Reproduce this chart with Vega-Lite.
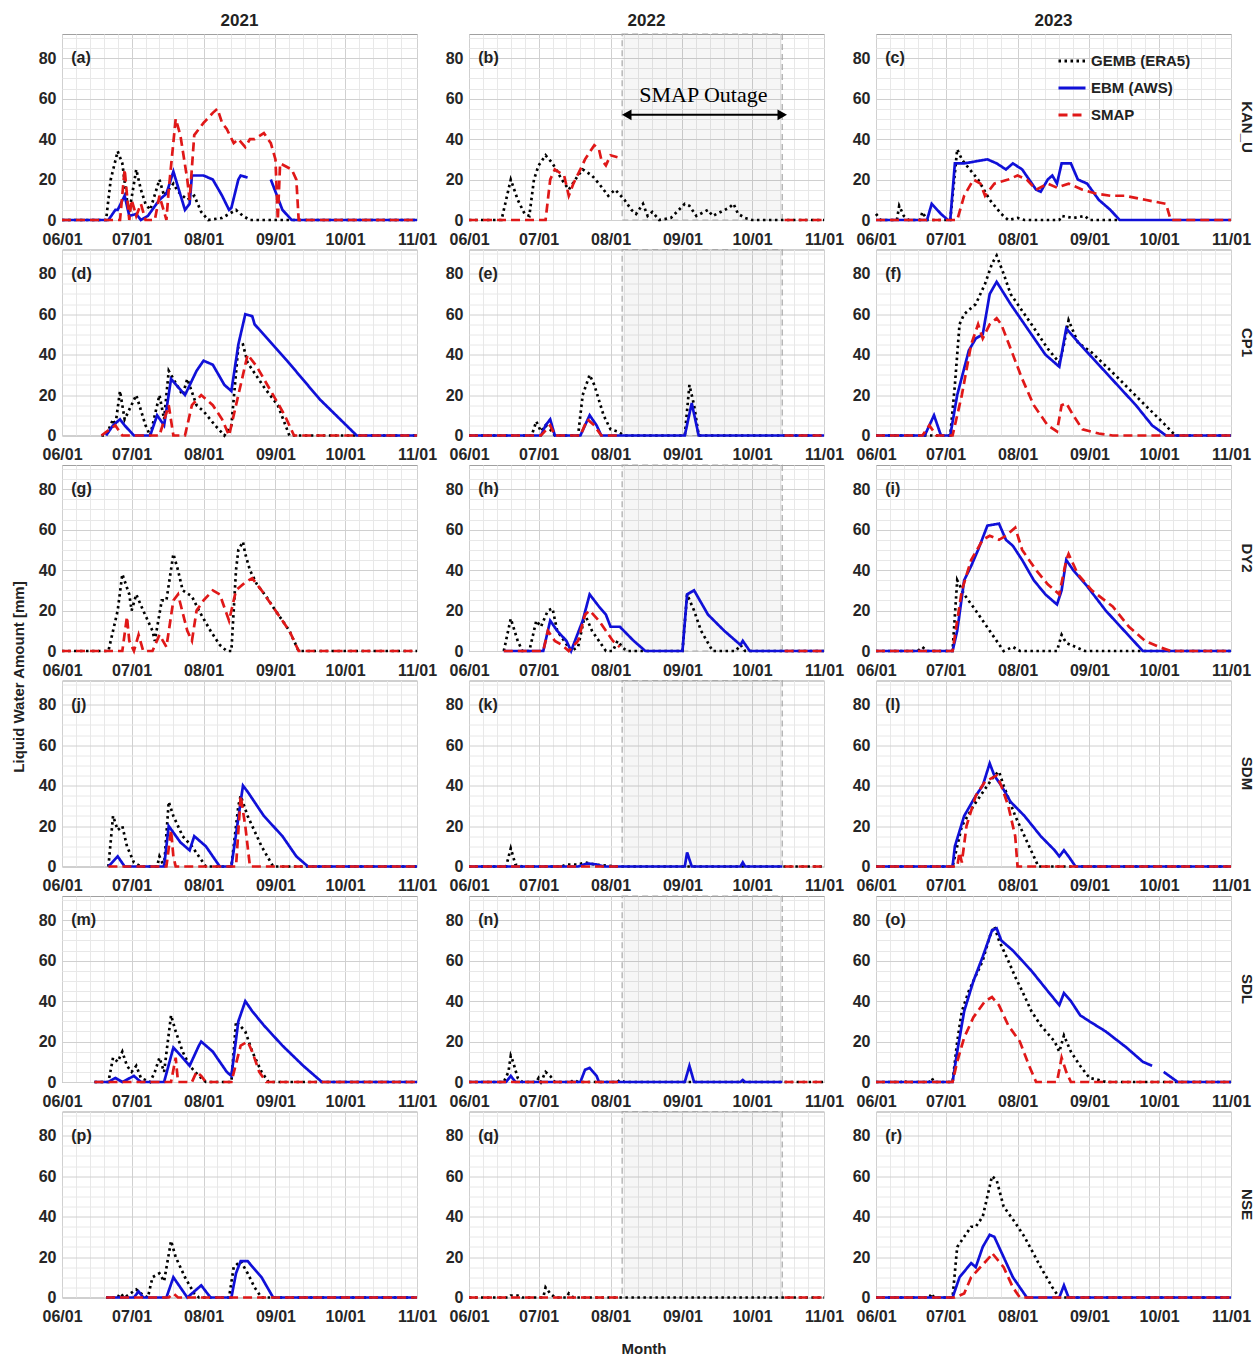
{
"$schema":"https://vega.github.io/schema/vega-lite/v6.json",
"padding":{"left":11,"top":12,"right":2,"bottom":2},
"data":{"values":[
{"site":"KAN_U","date":"2021-06-01","lab":"(a)"},{"site":"KAN_U","date":"2022-06-01","lab":"(b)"},{"site":"KAN_U","date":"2023-06-01","lab":"(c)"},
{"site":"CP1","date":"2021-06-01","lab":"(d)"},{"site":"CP1","date":"2022-06-01","lab":"(e)"},{"site":"CP1","date":"2023-06-01","lab":"(f)"},
{"site":"DY2","date":"2021-06-01","lab":"(g)"},{"site":"DY2","date":"2022-06-01","lab":"(h)"},{"site":"DY2","date":"2023-06-01","lab":"(i)"},
{"site":"SDM","date":"2021-06-01","lab":"(j)"},{"site":"SDM","date":"2022-06-01","lab":"(k)"},{"site":"SDM","date":"2023-06-01","lab":"(l)"},
{"site":"SDL","date":"2021-06-01","lab":"(m)"},{"site":"SDL","date":"2022-06-01","lab":"(n)"},{"site":"SDL","date":"2023-06-01","lab":"(o)"},
{"site":"NSE","date":"2021-06-01","lab":"(p)"},{"site":"NSE","date":"2022-06-01","lab":"(q)"},{"site":"NSE","date":"2023-06-01","lab":"(r)"},

{"site":"KAN_U","src":"GEMB (ERA5)","date":"2021-06-01","mm":0},{"site":"KAN_U","src":"GEMB (ERA5)","date":"2021-06-20","mm":0},{"site":"KAN_U","src":"GEMB (ERA5)","date":"2021-06-22","mm":20},{"site":"KAN_U","src":"GEMB (ERA5)","date":"2021-06-25","mm":34},{"site":"KAN_U","src":"GEMB (ERA5)","date":"2021-06-27","mm":28},{"site":"KAN_U","src":"GEMB (ERA5)","date":"2021-06-29","mm":10},{"site":"KAN_U","src":"GEMB (ERA5)","date":"2021-06-30","mm":4},{"site":"KAN_U","src":"GEMB (ERA5)","date":"2021-07-03","mm":25},{"site":"KAN_U","src":"GEMB (ERA5)","date":"2021-07-05","mm":15},{"site":"KAN_U","src":"GEMB (ERA5)","date":"2021-07-07","mm":8},{"site":"KAN_U","src":"GEMB (ERA5)","date":"2021-07-09","mm":5},{"site":"KAN_U","src":"GEMB (ERA5)","date":"2021-07-13","mm":20},{"site":"KAN_U","src":"GEMB (ERA5)","date":"2021-07-15","mm":12},{"site":"KAN_U","src":"GEMB (ERA5)","date":"2021-07-17","mm":15},{"site":"KAN_U","src":"GEMB (ERA5)","date":"2021-07-19","mm":18},{"site":"KAN_U","src":"GEMB (ERA5)","date":"2021-07-21","mm":14},{"site":"KAN_U","src":"GEMB (ERA5)","date":"2021-07-25","mm":10},{"site":"KAN_U","src":"GEMB (ERA5)","date":"2021-07-28","mm":12},{"site":"KAN_U","src":"GEMB (ERA5)","date":"2021-07-31","mm":4},{"site":"KAN_U","src":"GEMB (ERA5)","date":"2021-08-03","mm":0},{"site":"KAN_U","src":"GEMB (ERA5)","date":"2021-08-09","mm":1},{"site":"KAN_U","src":"GEMB (ERA5)","date":"2021-08-12","mm":3},{"site":"KAN_U","src":"GEMB (ERA5)","date":"2021-08-15","mm":5},{"site":"KAN_U","src":"GEMB (ERA5)","date":"2021-08-18","mm":2},{"site":"KAN_U","src":"GEMB (ERA5)","date":"2021-08-21","mm":0},{"site":"KAN_U","src":"GEMB (ERA5)","date":"2021-11-01","mm":0},
{"site":"KAN_U","src":"EBM (AWS)","date":"2021-06-01","mm":0},{"site":"KAN_U","src":"EBM (AWS)","date":"2021-06-21","mm":0},{"site":"KAN_U","src":"EBM (AWS)","date":"2021-06-24","mm":5},{"site":"KAN_U","src":"EBM (AWS)","date":"2021-06-25","mm":5},{"site":"KAN_U","src":"EBM (AWS)","date":"2021-06-28","mm":12},{"site":"KAN_U","src":"EBM (AWS)","date":"2021-06-30","mm":2},{"site":"KAN_U","src":"EBM (AWS)","date":"2021-07-03","mm":3},{"site":"KAN_U","src":"EBM (AWS)","date":"2021-07-05","mm":0},{"site":"KAN_U","src":"EBM (AWS)","date":"2021-07-08","mm":2},{"site":"KAN_U","src":"EBM (AWS)","date":"2021-07-13","mm":10},{"site":"KAN_U","src":"EBM (AWS)","date":"2021-07-16","mm":13},{"site":"KAN_U","src":"EBM (AWS)","date":"2021-07-19","mm":24},{"site":"KAN_U","src":"EBM (AWS)","date":"2021-07-24","mm":5},{"site":"KAN_U","src":"EBM (AWS)","date":"2021-07-26","mm":8},{"site":"KAN_U","src":"EBM (AWS)","date":"2021-07-27","mm":22},{"site":"KAN_U","src":"EBM (AWS)","date":"2021-08-01","mm":22},{"site":"KAN_U","src":"EBM (AWS)","date":"2021-08-05","mm":20},{"site":"KAN_U","src":"EBM (AWS)","date":"2021-08-09","mm":12},{"site":"KAN_U","src":"EBM (AWS)","date":"2021-08-12","mm":5},{"site":"KAN_U","src":"EBM (AWS)","date":"2021-08-13","mm":6},{"site":"KAN_U","src":"EBM (AWS)","date":"2021-08-16","mm":20},{"site":"KAN_U","src":"EBM (AWS)","date":"2021-08-17","mm":22},{"site":"KAN_U","src":"EBM (AWS)","date":"2021-08-20","mm":21},{"site":"KAN_U","src":"EBM (AWS)","date":"2021-08-25","mm":null},{"site":"KAN_U","src":"EBM (AWS)","date":"2021-08-30","mm":20},{"site":"KAN_U","src":"EBM (AWS)","date":"2021-09-04","mm":5},{"site":"KAN_U","src":"EBM (AWS)","date":"2021-09-08","mm":0},{"site":"KAN_U","src":"EBM (AWS)","date":"2021-11-01","mm":0},
{"site":"KAN_U","src":"SMAP","date":"2021-06-01","mm":0},{"site":"KAN_U","src":"SMAP","date":"2021-06-26","mm":0},{"site":"KAN_U","src":"SMAP","date":"2021-06-28","mm":25},{"site":"KAN_U","src":"SMAP","date":"2021-06-30","mm":0},{"site":"KAN_U","src":"SMAP","date":"2021-07-01","mm":10},{"site":"KAN_U","src":"SMAP","date":"2021-07-03","mm":2},{"site":"KAN_U","src":"SMAP","date":"2021-07-05","mm":8},{"site":"KAN_U","src":"SMAP","date":"2021-07-07","mm":0},{"site":"KAN_U","src":"SMAP","date":"2021-07-11","mm":0},{"site":"KAN_U","src":"SMAP","date":"2021-07-13","mm":12},{"site":"KAN_U","src":"SMAP","date":"2021-07-16","mm":0},{"site":"KAN_U","src":"SMAP","date":"2021-07-17","mm":15},{"site":"KAN_U","src":"SMAP","date":"2021-07-20","mm":50},{"site":"KAN_U","src":"SMAP","date":"2021-07-22","mm":42},{"site":"KAN_U","src":"SMAP","date":"2021-07-25","mm":20},{"site":"KAN_U","src":"SMAP","date":"2021-07-26","mm":10},{"site":"KAN_U","src":"SMAP","date":"2021-07-28","mm":42},{"site":"KAN_U","src":"SMAP","date":"2021-08-01","mm":48},{"site":"KAN_U","src":"SMAP","date":"2021-08-05","mm":53},{"site":"KAN_U","src":"SMAP","date":"2021-08-07","mm":55},{"site":"KAN_U","src":"SMAP","date":"2021-08-09","mm":48},{"site":"KAN_U","src":"SMAP","date":"2021-08-11","mm":45},{"site":"KAN_U","src":"SMAP","date":"2021-08-14","mm":38},{"site":"KAN_U","src":"SMAP","date":"2021-08-16","mm":40},{"site":"KAN_U","src":"SMAP","date":"2021-08-19","mm":36},{"site":"KAN_U","src":"SMAP","date":"2021-08-21","mm":40},{"site":"KAN_U","src":"SMAP","date":"2021-08-23","mm":40},{"site":"KAN_U","src":"SMAP","date":"2021-08-27","mm":43},{"site":"KAN_U","src":"SMAP","date":"2021-08-30","mm":38},{"site":"KAN_U","src":"SMAP","date":"2021-09-01","mm":30},{"site":"KAN_U","src":"SMAP","date":"2021-09-02","mm":0},{"site":"KAN_U","src":"SMAP","date":"2021-09-03","mm":28},{"site":"KAN_U","src":"SMAP","date":"2021-09-08","mm":25},{"site":"KAN_U","src":"SMAP","date":"2021-09-10","mm":20},{"site":"KAN_U","src":"SMAP","date":"2021-09-11","mm":0},{"site":"KAN_U","src":"SMAP","date":"2021-11-01","mm":0},

{"site":"KAN_U","src":"GEMB (ERA5)","date":"2022-06-01","mm":0},{"site":"KAN_U","src":"GEMB (ERA5)","date":"2022-06-15","mm":0},{"site":"KAN_U","src":"GEMB (ERA5)","date":"2022-06-19","mm":20},{"site":"KAN_U","src":"GEMB (ERA5)","date":"2022-06-22","mm":10},{"site":"KAN_U","src":"GEMB (ERA5)","date":"2022-06-25","mm":3},{"site":"KAN_U","src":"GEMB (ERA5)","date":"2022-06-27","mm":2},{"site":"KAN_U","src":"GEMB (ERA5)","date":"2022-06-29","mm":20},{"site":"KAN_U","src":"GEMB (ERA5)","date":"2022-07-01","mm":27},{"site":"KAN_U","src":"GEMB (ERA5)","date":"2022-07-04","mm":32},{"site":"KAN_U","src":"GEMB (ERA5)","date":"2022-07-07","mm":28},{"site":"KAN_U","src":"GEMB (ERA5)","date":"2022-07-11","mm":20},{"site":"KAN_U","src":"GEMB (ERA5)","date":"2022-07-14","mm":15},{"site":"KAN_U","src":"GEMB (ERA5)","date":"2022-07-18","mm":22},{"site":"KAN_U","src":"GEMB (ERA5)","date":"2022-07-20","mm":25},{"site":"KAN_U","src":"GEMB (ERA5)","date":"2022-07-24","mm":22},{"site":"KAN_U","src":"GEMB (ERA5)","date":"2022-07-27","mm":18},{"site":"KAN_U","src":"GEMB (ERA5)","date":"2022-07-29","mm":15},{"site":"KAN_U","src":"GEMB (ERA5)","date":"2022-07-31","mm":12},{"site":"KAN_U","src":"GEMB (ERA5)","date":"2022-08-03","mm":15},{"site":"KAN_U","src":"GEMB (ERA5)","date":"2022-08-07","mm":10},{"site":"KAN_U","src":"GEMB (ERA5)","date":"2022-08-10","mm":5},{"site":"KAN_U","src":"GEMB (ERA5)","date":"2022-08-12","mm":3},{"site":"KAN_U","src":"GEMB (ERA5)","date":"2022-08-15","mm":8},{"site":"KAN_U","src":"GEMB (ERA5)","date":"2022-08-17","mm":2},{"site":"KAN_U","src":"GEMB (ERA5)","date":"2022-08-19","mm":4},{"site":"KAN_U","src":"GEMB (ERA5)","date":"2022-08-22","mm":0},{"site":"KAN_U","src":"GEMB (ERA5)","date":"2022-08-27","mm":1},{"site":"KAN_U","src":"GEMB (ERA5)","date":"2022-09-02","mm":8},{"site":"KAN_U","src":"GEMB (ERA5)","date":"2022-09-04","mm":7},{"site":"KAN_U","src":"GEMB (ERA5)","date":"2022-09-07","mm":2},{"site":"KAN_U","src":"GEMB (ERA5)","date":"2022-09-12","mm":5},{"site":"KAN_U","src":"GEMB (ERA5)","date":"2022-09-14","mm":2},{"site":"KAN_U","src":"GEMB (ERA5)","date":"2022-09-21","mm":6},{"site":"KAN_U","src":"GEMB (ERA5)","date":"2022-09-23","mm":8},{"site":"KAN_U","src":"GEMB (ERA5)","date":"2022-09-25","mm":3},{"site":"KAN_U","src":"GEMB (ERA5)","date":"2022-09-28","mm":1},{"site":"KAN_U","src":"GEMB (ERA5)","date":"2022-10-01","mm":0},{"site":"KAN_U","src":"GEMB (ERA5)","date":"2022-11-01","mm":0},
{"site":"KAN_U","src":"SMAP","date":"2022-06-01","mm":0},{"site":"KAN_U","src":"SMAP","date":"2022-07-04","mm":0},{"site":"KAN_U","src":"SMAP","date":"2022-07-06","mm":20},{"site":"KAN_U","src":"SMAP","date":"2022-07-08","mm":25},{"site":"KAN_U","src":"SMAP","date":"2022-07-12","mm":22},{"site":"KAN_U","src":"SMAP","date":"2022-07-14","mm":12},{"site":"KAN_U","src":"SMAP","date":"2022-07-16","mm":18},{"site":"KAN_U","src":"SMAP","date":"2022-07-19","mm":25},{"site":"KAN_U","src":"SMAP","date":"2022-07-21","mm":30},{"site":"KAN_U","src":"SMAP","date":"2022-07-25","mm":37},{"site":"KAN_U","src":"SMAP","date":"2022-07-27","mm":35},{"site":"KAN_U","src":"SMAP","date":"2022-07-28","mm":30},{"site":"KAN_U","src":"SMAP","date":"2022-07-30","mm":27},{"site":"KAN_U","src":"SMAP","date":"2022-08-01","mm":32},{"site":"KAN_U","src":"SMAP","date":"2022-08-04","mm":31},{"site":"KAN_U","src":"SMAP","date":"2022-08-06","mm":null},{"site":"KAN_U","src":"SMAP","date":"2022-10-15","mm":0},{"site":"KAN_U","src":"SMAP","date":"2022-11-01","mm":0},

{"site":"KAN_U","src":"GEMB (ERA5)","date":"2023-06-01","mm":3},{"site":"KAN_U","src":"GEMB (ERA5)","date":"2023-06-03","mm":0},{"site":"KAN_U","src":"GEMB (ERA5)","date":"2023-06-10","mm":0},{"site":"KAN_U","src":"GEMB (ERA5)","date":"2023-06-11","mm":7},{"site":"KAN_U","src":"GEMB (ERA5)","date":"2023-06-13","mm":2},{"site":"KAN_U","src":"GEMB (ERA5)","date":"2023-06-15","mm":0},{"site":"KAN_U","src":"GEMB (ERA5)","date":"2023-06-20","mm":0},{"site":"KAN_U","src":"GEMB (ERA5)","date":"2023-06-21","mm":4},{"site":"KAN_U","src":"GEMB (ERA5)","date":"2023-06-23","mm":0},{"site":"KAN_U","src":"GEMB (ERA5)","date":"2023-07-03","mm":0},{"site":"KAN_U","src":"GEMB (ERA5)","date":"2023-07-06","mm":35},{"site":"KAN_U","src":"GEMB (ERA5)","date":"2023-07-08","mm":30},{"site":"KAN_U","src":"GEMB (ERA5)","date":"2023-07-10","mm":27},{"site":"KAN_U","src":"GEMB (ERA5)","date":"2023-07-15","mm":20},{"site":"KAN_U","src":"GEMB (ERA5)","date":"2023-07-20","mm":10},{"site":"KAN_U","src":"GEMB (ERA5)","date":"2023-07-25","mm":3},{"site":"KAN_U","src":"GEMB (ERA5)","date":"2023-07-28","mm":0},{"site":"KAN_U","src":"GEMB (ERA5)","date":"2023-08-01","mm":1},{"site":"KAN_U","src":"GEMB (ERA5)","date":"2023-08-04","mm":0},{"site":"KAN_U","src":"GEMB (ERA5)","date":"2023-08-19","mm":0},{"site":"KAN_U","src":"GEMB (ERA5)","date":"2023-08-20","mm":2},{"site":"KAN_U","src":"GEMB (ERA5)","date":"2023-08-25","mm":1},{"site":"KAN_U","src":"GEMB (ERA5)","date":"2023-08-30","mm":2},{"site":"KAN_U","src":"GEMB (ERA5)","date":"2023-09-01","mm":0},{"site":"KAN_U","src":"GEMB (ERA5)","date":"2023-09-13","mm":0},
{"site":"KAN_U","src":"EBM (AWS)","date":"2023-06-01","mm":0},{"site":"KAN_U","src":"EBM (AWS)","date":"2023-06-23","mm":0},{"site":"KAN_U","src":"EBM (AWS)","date":"2023-06-25","mm":8},{"site":"KAN_U","src":"EBM (AWS)","date":"2023-06-29","mm":3},{"site":"KAN_U","src":"EBM (AWS)","date":"2023-07-02","mm":0},{"site":"KAN_U","src":"EBM (AWS)","date":"2023-07-03","mm":0},{"site":"KAN_U","src":"EBM (AWS)","date":"2023-07-05","mm":28},{"site":"KAN_U","src":"EBM (AWS)","date":"2023-07-09","mm":28},{"site":"KAN_U","src":"EBM (AWS)","date":"2023-07-14","mm":29},{"site":"KAN_U","src":"EBM (AWS)","date":"2023-07-19","mm":30},{"site":"KAN_U","src":"EBM (AWS)","date":"2023-07-23","mm":28},{"site":"KAN_U","src":"EBM (AWS)","date":"2023-07-27","mm":25},{"site":"KAN_U","src":"EBM (AWS)","date":"2023-07-30","mm":28},{"site":"KAN_U","src":"EBM (AWS)","date":"2023-08-03","mm":25},{"site":"KAN_U","src":"EBM (AWS)","date":"2023-08-06","mm":20},{"site":"KAN_U","src":"EBM (AWS)","date":"2023-08-09","mm":15},{"site":"KAN_U","src":"EBM (AWS)","date":"2023-08-11","mm":14},{"site":"KAN_U","src":"EBM (AWS)","date":"2023-08-14","mm":20},{"site":"KAN_U","src":"EBM (AWS)","date":"2023-08-16","mm":22},{"site":"KAN_U","src":"EBM (AWS)","date":"2023-08-18","mm":18},{"site":"KAN_U","src":"EBM (AWS)","date":"2023-08-20","mm":28},{"site":"KAN_U","src":"EBM (AWS)","date":"2023-08-24","mm":28},{"site":"KAN_U","src":"EBM (AWS)","date":"2023-08-27","mm":20},{"site":"KAN_U","src":"EBM (AWS)","date":"2023-08-31","mm":18},{"site":"KAN_U","src":"EBM (AWS)","date":"2023-09-05","mm":10},{"site":"KAN_U","src":"EBM (AWS)","date":"2023-09-10","mm":5},{"site":"KAN_U","src":"EBM (AWS)","date":"2023-09-14","mm":0},{"site":"KAN_U","src":"EBM (AWS)","date":"2023-11-01","mm":0},
{"site":"KAN_U","src":"SMAP","date":"2023-06-01","mm":0},{"site":"KAN_U","src":"SMAP","date":"2023-07-06","mm":0},{"site":"KAN_U","src":"SMAP","date":"2023-07-09","mm":12},{"site":"KAN_U","src":"SMAP","date":"2023-07-13","mm":20},{"site":"KAN_U","src":"SMAP","date":"2023-07-16","mm":18},{"site":"KAN_U","src":"SMAP","date":"2023-07-18","mm":12},{"site":"KAN_U","src":"SMAP","date":"2023-07-22","mm":18},{"site":"KAN_U","src":"SMAP","date":"2023-07-28","mm":20},{"site":"KAN_U","src":"SMAP","date":"2023-08-01","mm":22},{"site":"KAN_U","src":"SMAP","date":"2023-08-05","mm":20},{"site":"KAN_U","src":"SMAP","date":"2023-08-09","mm":15},{"site":"KAN_U","src":"SMAP","date":"2023-08-14","mm":18},{"site":"KAN_U","src":"SMAP","date":"2023-08-18","mm":16},{"site":"KAN_U","src":"SMAP","date":"2023-08-23","mm":18},{"site":"KAN_U","src":"SMAP","date":"2023-08-29","mm":15},{"site":"KAN_U","src":"SMAP","date":"2023-09-04","mm":13},{"site":"KAN_U","src":"SMAP","date":"2023-09-10","mm":12},{"site":"KAN_U","src":"SMAP","date":"2023-09-16","mm":12},{"site":"KAN_U","src":"SMAP","date":"2023-09-25","mm":10},{"site":"KAN_U","src":"SMAP","date":"2023-10-04","mm":8},{"site":"KAN_U","src":"SMAP","date":"2023-10-06","mm":0},{"site":"KAN_U","src":"SMAP","date":"2023-11-01","mm":0},

{"site":"CP1","src":"GEMB (ERA5)","date":"2021-06-18","mm":0},{"site":"CP1","src":"GEMB (ERA5)","date":"2021-06-20","mm":0},{"site":"CP1","src":"GEMB (ERA5)","date":"2021-06-23","mm":8},{"site":"CP1","src":"GEMB (ERA5)","date":"2021-06-24","mm":5},{"site":"CP1","src":"GEMB (ERA5)","date":"2021-06-26","mm":22},{"site":"CP1","src":"GEMB (ERA5)","date":"2021-06-28","mm":8},{"site":"CP1","src":"GEMB (ERA5)","date":"2021-07-03","mm":20},{"site":"CP1","src":"GEMB (ERA5)","date":"2021-07-07","mm":5},{"site":"CP1","src":"GEMB (ERA5)","date":"2021-07-09","mm":0},{"site":"CP1","src":"GEMB (ERA5)","date":"2021-07-13","mm":20},{"site":"CP1","src":"GEMB (ERA5)","date":"2021-07-15","mm":8},{"site":"CP1","src":"GEMB (ERA5)","date":"2021-07-17","mm":32},{"site":"CP1","src":"GEMB (ERA5)","date":"2021-07-23","mm":20},{"site":"CP1","src":"GEMB (ERA5)","date":"2021-07-25","mm":28},{"site":"CP1","src":"GEMB (ERA5)","date":"2021-07-29","mm":15},{"site":"CP1","src":"GEMB (ERA5)","date":"2021-08-01","mm":12},{"site":"CP1","src":"GEMB (ERA5)","date":"2021-08-06","mm":5},{"site":"CP1","src":"GEMB (ERA5)","date":"2021-08-10","mm":0},{"site":"CP1","src":"GEMB (ERA5)","date":"2021-08-13","mm":5},{"site":"CP1","src":"GEMB (ERA5)","date":"2021-08-16","mm":44},{"site":"CP1","src":"GEMB (ERA5)","date":"2021-08-18","mm":45},{"site":"CP1","src":"GEMB (ERA5)","date":"2021-08-20","mm":36},{"site":"CP1","src":"GEMB (ERA5)","date":"2021-08-27","mm":24},{"site":"CP1","src":"GEMB (ERA5)","date":"2021-09-02","mm":15},{"site":"CP1","src":"GEMB (ERA5)","date":"2021-09-07","mm":0},{"site":"CP1","src":"GEMB (ERA5)","date":"2021-11-01","mm":0},
{"site":"CP1","src":"EBM (AWS)","date":"2021-06-20","mm":0},{"site":"CP1","src":"EBM (AWS)","date":"2021-06-23","mm":5},{"site":"CP1","src":"EBM (AWS)","date":"2021-06-26","mm":8},{"site":"CP1","src":"EBM (AWS)","date":"2021-06-28","mm":5},{"site":"CP1","src":"EBM (AWS)","date":"2021-07-02","mm":0},{"site":"CP1","src":"EBM (AWS)","date":"2021-07-09","mm":0},{"site":"CP1","src":"EBM (AWS)","date":"2021-07-12","mm":10},{"site":"CP1","src":"EBM (AWS)","date":"2021-07-15","mm":5},{"site":"CP1","src":"EBM (AWS)","date":"2021-07-18","mm":28},{"site":"CP1","src":"EBM (AWS)","date":"2021-07-24","mm":20},{"site":"CP1","src":"EBM (AWS)","date":"2021-07-29","mm":32},{"site":"CP1","src":"EBM (AWS)","date":"2021-08-01","mm":37},{"site":"CP1","src":"EBM (AWS)","date":"2021-08-05","mm":35},{"site":"CP1","src":"EBM (AWS)","date":"2021-08-10","mm":25},{"site":"CP1","src":"EBM (AWS)","date":"2021-08-13","mm":22},{"site":"CP1","src":"EBM (AWS)","date":"2021-08-16","mm":45},{"site":"CP1","src":"EBM (AWS)","date":"2021-08-19","mm":60},{"site":"CP1","src":"EBM (AWS)","date":"2021-08-22","mm":59},{"site":"CP1","src":"EBM (AWS)","date":"2021-08-23","mm":55},{"site":"CP1","src":"EBM (AWS)","date":"2021-09-06","mm":37},{"site":"CP1","src":"EBM (AWS)","date":"2021-09-20","mm":18},{"site":"CP1","src":"EBM (AWS)","date":"2021-10-06","mm":0},{"site":"CP1","src":"EBM (AWS)","date":"2021-11-01","mm":0},
{"site":"CP1","src":"SMAP","date":"2021-06-18","mm":0},{"site":"CP1","src":"SMAP","date":"2021-06-24","mm":5},{"site":"CP1","src":"SMAP","date":"2021-06-27","mm":0},{"site":"CP1","src":"SMAP","date":"2021-07-13","mm":0},{"site":"CP1","src":"SMAP","date":"2021-07-17","mm":15},{"site":"CP1","src":"SMAP","date":"2021-07-19","mm":0},{"site":"CP1","src":"SMAP","date":"2021-07-24","mm":0},{"site":"CP1","src":"SMAP","date":"2021-07-27","mm":15},{"site":"CP1","src":"SMAP","date":"2021-07-31","mm":20},{"site":"CP1","src":"SMAP","date":"2021-08-05","mm":15},{"site":"CP1","src":"SMAP","date":"2021-08-09","mm":8},{"site":"CP1","src":"SMAP","date":"2021-08-12","mm":0},{"site":"CP1","src":"SMAP","date":"2021-08-13","mm":5},{"site":"CP1","src":"SMAP","date":"2021-08-17","mm":25},{"site":"CP1","src":"SMAP","date":"2021-08-20","mm":40},{"site":"CP1","src":"SMAP","date":"2021-08-24","mm":34},{"site":"CP1","src":"SMAP","date":"2021-08-30","mm":22},{"site":"CP1","src":"SMAP","date":"2021-09-05","mm":10},{"site":"CP1","src":"SMAP","date":"2021-09-09","mm":0},{"site":"CP1","src":"SMAP","date":"2021-11-01","mm":0},

{"site":"CP1","src":"GEMB (ERA5)","date":"2022-06-01","mm":0},{"site":"CP1","src":"GEMB (ERA5)","date":"2022-06-28","mm":0},{"site":"CP1","src":"GEMB (ERA5)","date":"2022-06-30","mm":7},{"site":"CP1","src":"GEMB (ERA5)","date":"2022-07-02","mm":2},{"site":"CP1","src":"GEMB (ERA5)","date":"2022-07-04","mm":5},{"site":"CP1","src":"GEMB (ERA5)","date":"2022-07-06","mm":3},{"site":"CP1","src":"GEMB (ERA5)","date":"2022-07-08","mm":0},{"site":"CP1","src":"GEMB (ERA5)","date":"2022-07-18","mm":0},{"site":"CP1","src":"GEMB (ERA5)","date":"2022-07-20","mm":20},{"site":"CP1","src":"GEMB (ERA5)","date":"2022-07-23","mm":30},{"site":"CP1","src":"GEMB (ERA5)","date":"2022-07-25","mm":25},{"site":"CP1","src":"GEMB (ERA5)","date":"2022-07-29","mm":10},{"site":"CP1","src":"GEMB (ERA5)","date":"2022-08-01","mm":3},{"site":"CP1","src":"GEMB (ERA5)","date":"2022-08-04","mm":2},{"site":"CP1","src":"GEMB (ERA5)","date":"2022-08-07","mm":0},{"site":"CP1","src":"GEMB (ERA5)","date":"2022-09-02","mm":0},{"site":"CP1","src":"GEMB (ERA5)","date":"2022-09-04","mm":25},{"site":"CP1","src":"GEMB (ERA5)","date":"2022-09-06","mm":15},{"site":"CP1","src":"GEMB (ERA5)","date":"2022-09-08","mm":0},{"site":"CP1","src":"GEMB (ERA5)","date":"2022-11-01","mm":0},
{"site":"CP1","src":"EBM (AWS)","date":"2022-06-01","mm":0},{"site":"CP1","src":"EBM (AWS)","date":"2022-07-02","mm":0},{"site":"CP1","src":"EBM (AWS)","date":"2022-07-04","mm":5},{"site":"CP1","src":"EBM (AWS)","date":"2022-07-06","mm":8},{"site":"CP1","src":"EBM (AWS)","date":"2022-07-08","mm":0},{"site":"CP1","src":"EBM (AWS)","date":"2022-07-19","mm":0},{"site":"CP1","src":"EBM (AWS)","date":"2022-07-23","mm":10},{"site":"CP1","src":"EBM (AWS)","date":"2022-07-26","mm":5},{"site":"CP1","src":"EBM (AWS)","date":"2022-07-28","mm":0},{"site":"CP1","src":"EBM (AWS)","date":"2022-09-02","mm":0},{"site":"CP1","src":"EBM (AWS)","date":"2022-09-05","mm":16},{"site":"CP1","src":"EBM (AWS)","date":"2022-09-08","mm":0},{"site":"CP1","src":"EBM (AWS)","date":"2022-11-01","mm":0},
{"site":"CP1","src":"SMAP","date":"2022-06-01","mm":0},{"site":"CP1","src":"SMAP","date":"2022-07-02","mm":0},{"site":"CP1","src":"SMAP","date":"2022-07-06","mm":5},{"site":"CP1","src":"SMAP","date":"2022-07-08","mm":0},{"site":"CP1","src":"SMAP","date":"2022-07-19","mm":0},{"site":"CP1","src":"SMAP","date":"2022-07-22","mm":8},{"site":"CP1","src":"SMAP","date":"2022-07-25","mm":5},{"site":"CP1","src":"SMAP","date":"2022-07-28","mm":0},{"site":"CP1","src":"SMAP","date":"2022-08-05","mm":0},{"site":"CP1","src":"SMAP","date":"2022-08-06","mm":null},{"site":"CP1","src":"SMAP","date":"2022-10-15","mm":0},{"site":"CP1","src":"SMAP","date":"2022-11-01","mm":0},

{"site":"CP1","src":"GEMB (ERA5)","date":"2023-06-01","mm":0},{"site":"CP1","src":"GEMB (ERA5)","date":"2023-07-03","mm":0},{"site":"CP1","src":"GEMB (ERA5)","date":"2023-07-05","mm":25},{"site":"CP1","src":"GEMB (ERA5)","date":"2023-07-07","mm":55},{"site":"CP1","src":"GEMB (ERA5)","date":"2023-07-09","mm":60},{"site":"CP1","src":"GEMB (ERA5)","date":"2023-07-12","mm":63},{"site":"CP1","src":"GEMB (ERA5)","date":"2023-07-14","mm":65},{"site":"CP1","src":"GEMB (ERA5)","date":"2023-07-18","mm":75},{"site":"CP1","src":"GEMB (ERA5)","date":"2023-07-21","mm":85},{"site":"CP1","src":"GEMB (ERA5)","date":"2023-07-23","mm":89},{"site":"CP1","src":"GEMB (ERA5)","date":"2023-07-26","mm":80},{"site":"CP1","src":"GEMB (ERA5)","date":"2023-07-29","mm":70},{"site":"CP1","src":"GEMB (ERA5)","date":"2023-08-07","mm":55},{"site":"CP1","src":"GEMB (ERA5)","date":"2023-08-14","mm":43},{"site":"CP1","src":"GEMB (ERA5)","date":"2023-08-19","mm":36},{"site":"CP1","src":"GEMB (ERA5)","date":"2023-08-21","mm":45},{"site":"CP1","src":"GEMB (ERA5)","date":"2023-08-23","mm":57},{"site":"CP1","src":"GEMB (ERA5)","date":"2023-08-27","mm":46},{"site":"CP1","src":"GEMB (ERA5)","date":"2023-09-02","mm":41},{"site":"CP1","src":"GEMB (ERA5)","date":"2023-09-12","mm":30},{"site":"CP1","src":"GEMB (ERA5)","date":"2023-09-25","mm":15},{"site":"CP1","src":"GEMB (ERA5)","date":"2023-10-03","mm":6},{"site":"CP1","src":"GEMB (ERA5)","date":"2023-10-08","mm":0},{"site":"CP1","src":"GEMB (ERA5)","date":"2023-11-01","mm":0},
{"site":"CP1","src":"EBM (AWS)","date":"2023-06-01","mm":0},{"site":"CP1","src":"EBM (AWS)","date":"2023-06-22","mm":0},{"site":"CP1","src":"EBM (AWS)","date":"2023-06-26","mm":10},{"site":"CP1","src":"EBM (AWS)","date":"2023-06-29","mm":0},{"site":"CP1","src":"EBM (AWS)","date":"2023-07-03","mm":0},{"site":"CP1","src":"EBM (AWS)","date":"2023-07-06","mm":20},{"site":"CP1","src":"EBM (AWS)","date":"2023-07-11","mm":42},{"site":"CP1","src":"EBM (AWS)","date":"2023-07-14","mm":48},{"site":"CP1","src":"EBM (AWS)","date":"2023-07-17","mm":50},{"site":"CP1","src":"EBM (AWS)","date":"2023-07-20","mm":70},{"site":"CP1","src":"EBM (AWS)","date":"2023-07-23","mm":76},{"site":"CP1","src":"EBM (AWS)","date":"2023-07-29","mm":65},{"site":"CP1","src":"EBM (AWS)","date":"2023-08-07","mm":50},{"site":"CP1","src":"EBM (AWS)","date":"2023-08-13","mm":40},{"site":"CP1","src":"EBM (AWS)","date":"2023-08-19","mm":34},{"site":"CP1","src":"EBM (AWS)","date":"2023-08-22","mm":53},{"site":"CP1","src":"EBM (AWS)","date":"2023-08-28","mm":45},{"site":"CP1","src":"EBM (AWS)","date":"2023-09-09","mm":30},{"site":"CP1","src":"EBM (AWS)","date":"2023-09-21","mm":15},{"site":"CP1","src":"EBM (AWS)","date":"2023-09-28","mm":5},{"site":"CP1","src":"EBM (AWS)","date":"2023-10-04","mm":0},{"site":"CP1","src":"EBM (AWS)","date":"2023-11-01","mm":0},
{"site":"CP1","src":"SMAP","date":"2023-06-01","mm":0},{"site":"CP1","src":"SMAP","date":"2023-06-21","mm":0},{"site":"CP1","src":"SMAP","date":"2023-06-24","mm":5},{"site":"CP1","src":"SMAP","date":"2023-06-27","mm":0},{"site":"CP1","src":"SMAP","date":"2023-07-04","mm":0},{"site":"CP1","src":"SMAP","date":"2023-07-08","mm":20},{"site":"CP1","src":"SMAP","date":"2023-07-12","mm":45},{"site":"CP1","src":"SMAP","date":"2023-07-15","mm":55},{"site":"CP1","src":"SMAP","date":"2023-07-17","mm":48},{"site":"CP1","src":"SMAP","date":"2023-07-20","mm":55},{"site":"CP1","src":"SMAP","date":"2023-07-23","mm":58},{"site":"CP1","src":"SMAP","date":"2023-07-25","mm":55},{"site":"CP1","src":"SMAP","date":"2023-07-30","mm":40},{"site":"CP1","src":"SMAP","date":"2023-08-03","mm":28},{"site":"CP1","src":"SMAP","date":"2023-08-08","mm":15},{"site":"CP1","src":"SMAP","date":"2023-08-14","mm":5},{"site":"CP1","src":"SMAP","date":"2023-08-18","mm":2},{"site":"CP1","src":"SMAP","date":"2023-08-20","mm":15},{"site":"CP1","src":"SMAP","date":"2023-08-22","mm":16},{"site":"CP1","src":"SMAP","date":"2023-08-25","mm":10},{"site":"CP1","src":"SMAP","date":"2023-08-29","mm":3},{"site":"CP1","src":"SMAP","date":"2023-09-05","mm":1},{"site":"CP1","src":"SMAP","date":"2023-09-11","mm":0},{"site":"CP1","src":"SMAP","date":"2023-11-01","mm":0},

{"site":"DY2","src":"GEMB (ERA5)","date":"2021-06-01","mm":0},{"site":"DY2","src":"GEMB (ERA5)","date":"2021-06-21","mm":0},{"site":"DY2","src":"GEMB (ERA5)","date":"2021-06-24","mm":15},{"site":"DY2","src":"GEMB (ERA5)","date":"2021-06-25","mm":20},{"site":"DY2","src":"GEMB (ERA5)","date":"2021-06-27","mm":38},{"site":"DY2","src":"GEMB (ERA5)","date":"2021-06-30","mm":28},{"site":"DY2","src":"GEMB (ERA5)","date":"2021-07-01","mm":20},{"site":"DY2","src":"GEMB (ERA5)","date":"2021-07-03","mm":28},{"site":"DY2","src":"GEMB (ERA5)","date":"2021-07-06","mm":20},{"site":"DY2","src":"GEMB (ERA5)","date":"2021-07-10","mm":10},{"site":"DY2","src":"GEMB (ERA5)","date":"2021-07-11","mm":5},{"site":"DY2","src":"GEMB (ERA5)","date":"2021-07-14","mm":25},{"site":"DY2","src":"GEMB (ERA5)","date":"2021-07-16","mm":25},{"site":"DY2","src":"GEMB (ERA5)","date":"2021-07-19","mm":48},{"site":"DY2","src":"GEMB (ERA5)","date":"2021-07-21","mm":40},{"site":"DY2","src":"GEMB (ERA5)","date":"2021-07-23","mm":30},{"site":"DY2","src":"GEMB (ERA5)","date":"2021-07-27","mm":27},{"site":"DY2","src":"GEMB (ERA5)","date":"2021-07-30","mm":20},{"site":"DY2","src":"GEMB (ERA5)","date":"2021-08-04","mm":10},{"site":"DY2","src":"GEMB (ERA5)","date":"2021-08-08","mm":3},{"site":"DY2","src":"GEMB (ERA5)","date":"2021-08-11","mm":0},{"site":"DY2","src":"GEMB (ERA5)","date":"2021-08-13","mm":0},{"site":"DY2","src":"GEMB (ERA5)","date":"2021-08-15","mm":40},{"site":"DY2","src":"GEMB (ERA5)","date":"2021-08-16","mm":50},{"site":"DY2","src":"GEMB (ERA5)","date":"2021-08-18","mm":54},{"site":"DY2","src":"GEMB (ERA5)","date":"2021-08-19","mm":48},{"site":"DY2","src":"GEMB (ERA5)","date":"2021-08-21","mm":40},{"site":"DY2","src":"GEMB (ERA5)","date":"2021-08-24","mm":33},{"site":"DY2","src":"GEMB (ERA5)","date":"2021-08-28","mm":27},{"site":"DY2","src":"GEMB (ERA5)","date":"2021-09-01","mm":20},{"site":"DY2","src":"GEMB (ERA5)","date":"2021-09-07","mm":10},{"site":"DY2","src":"GEMB (ERA5)","date":"2021-09-11","mm":0},{"site":"DY2","src":"GEMB (ERA5)","date":"2021-11-01","mm":0},
{"site":"DY2","src":"SMAP","date":"2021-06-01","mm":0},{"site":"DY2","src":"SMAP","date":"2021-06-27","mm":0},{"site":"DY2","src":"SMAP","date":"2021-06-29","mm":17},{"site":"DY2","src":"SMAP","date":"2021-06-30","mm":5},{"site":"DY2","src":"SMAP","date":"2021-07-02","mm":0},{"site":"DY2","src":"SMAP","date":"2021-07-04","mm":8},{"site":"DY2","src":"SMAP","date":"2021-07-06","mm":0},{"site":"DY2","src":"SMAP","date":"2021-07-10","mm":0},{"site":"DY2","src":"SMAP","date":"2021-07-13","mm":8},{"site":"DY2","src":"SMAP","date":"2021-07-16","mm":2},{"site":"DY2","src":"SMAP","date":"2021-07-19","mm":25},{"site":"DY2","src":"SMAP","date":"2021-07-21","mm":28},{"site":"DY2","src":"SMAP","date":"2021-07-25","mm":10},{"site":"DY2","src":"SMAP","date":"2021-07-27","mm":5},{"site":"DY2","src":"SMAP","date":"2021-07-29","mm":20},{"site":"DY2","src":"SMAP","date":"2021-08-01","mm":25},{"site":"DY2","src":"SMAP","date":"2021-08-05","mm":30},{"site":"DY2","src":"SMAP","date":"2021-08-08","mm":28},{"site":"DY2","src":"SMAP","date":"2021-08-12","mm":15},{"site":"DY2","src":"SMAP","date":"2021-08-15","mm":30},{"site":"DY2","src":"SMAP","date":"2021-08-19","mm":34},{"site":"DY2","src":"SMAP","date":"2021-08-22","mm":36},{"site":"DY2","src":"SMAP","date":"2021-08-26","mm":30},{"site":"DY2","src":"SMAP","date":"2021-09-01","mm":20},{"site":"DY2","src":"SMAP","date":"2021-09-07","mm":10},{"site":"DY2","src":"SMAP","date":"2021-09-11","mm":0},{"site":"DY2","src":"SMAP","date":"2021-11-01","mm":0},

{"site":"DY2","src":"GEMB (ERA5)","date":"2022-06-16","mm":0},{"site":"DY2","src":"GEMB (ERA5)","date":"2022-06-19","mm":16},{"site":"DY2","src":"GEMB (ERA5)","date":"2022-06-22","mm":5},{"site":"DY2","src":"GEMB (ERA5)","date":"2022-06-24","mm":0},{"site":"DY2","src":"GEMB (ERA5)","date":"2022-06-27","mm":0},{"site":"DY2","src":"GEMB (ERA5)","date":"2022-06-30","mm":15},{"site":"DY2","src":"GEMB (ERA5)","date":"2022-07-02","mm":12},{"site":"DY2","src":"GEMB (ERA5)","date":"2022-07-05","mm":20},{"site":"DY2","src":"GEMB (ERA5)","date":"2022-07-07","mm":21},{"site":"DY2","src":"GEMB (ERA5)","date":"2022-07-09","mm":10},{"site":"DY2","src":"GEMB (ERA5)","date":"2022-07-12","mm":5},{"site":"DY2","src":"GEMB (ERA5)","date":"2022-07-15","mm":0},{"site":"DY2","src":"GEMB (ERA5)","date":"2022-07-18","mm":2},{"site":"DY2","src":"GEMB (ERA5)","date":"2022-07-21","mm":18},{"site":"DY2","src":"GEMB (ERA5)","date":"2022-07-24","mm":10},{"site":"DY2","src":"GEMB (ERA5)","date":"2022-07-27","mm":5},{"site":"DY2","src":"GEMB (ERA5)","date":"2022-07-30","mm":0},{"site":"DY2","src":"GEMB (ERA5)","date":"2022-08-02","mm":0},{"site":"DY2","src":"GEMB (ERA5)","date":"2022-08-04","mm":5},{"site":"DY2","src":"GEMB (ERA5)","date":"2022-08-06","mm":2},{"site":"DY2","src":"GEMB (ERA5)","date":"2022-08-08","mm":0},{"site":"DY2","src":"GEMB (ERA5)","date":"2022-09-01","mm":0},{"site":"DY2","src":"GEMB (ERA5)","date":"2022-09-03","mm":28},{"site":"DY2","src":"GEMB (ERA5)","date":"2022-09-06","mm":20},{"site":"DY2","src":"GEMB (ERA5)","date":"2022-09-09","mm":10},{"site":"DY2","src":"GEMB (ERA5)","date":"2022-09-14","mm":0},{"site":"DY2","src":"GEMB (ERA5)","date":"2022-09-24","mm":0},{"site":"DY2","src":"GEMB (ERA5)","date":"2022-09-26","mm":3},{"site":"DY2","src":"GEMB (ERA5)","date":"2022-09-28","mm":0},{"site":"DY2","src":"GEMB (ERA5)","date":"2022-11-01","mm":0},
{"site":"DY2","src":"EBM (AWS)","date":"2022-06-16","mm":0},{"site":"DY2","src":"EBM (AWS)","date":"2022-07-03","mm":0},{"site":"DY2","src":"EBM (AWS)","date":"2022-07-06","mm":15},{"site":"DY2","src":"EBM (AWS)","date":"2022-07-09","mm":10},{"site":"DY2","src":"EBM (AWS)","date":"2022-07-13","mm":5},{"site":"DY2","src":"EBM (AWS)","date":"2022-07-15","mm":0},{"site":"DY2","src":"EBM (AWS)","date":"2022-07-20","mm":15},{"site":"DY2","src":"EBM (AWS)","date":"2022-07-23","mm":28},{"site":"DY2","src":"EBM (AWS)","date":"2022-07-27","mm":22},{"site":"DY2","src":"EBM (AWS)","date":"2022-07-30","mm":18},{"site":"DY2","src":"EBM (AWS)","date":"2022-08-01","mm":12},{"site":"DY2","src":"EBM (AWS)","date":"2022-08-05","mm":12},{"site":"DY2","src":"EBM (AWS)","date":"2022-08-11","mm":5},{"site":"DY2","src":"EBM (AWS)","date":"2022-08-16","mm":0},{"site":"DY2","src":"EBM (AWS)","date":"2022-09-01","mm":0},{"site":"DY2","src":"EBM (AWS)","date":"2022-09-03","mm":28},{"site":"DY2","src":"EBM (AWS)","date":"2022-09-06","mm":30},{"site":"DY2","src":"EBM (AWS)","date":"2022-09-12","mm":18},{"site":"DY2","src":"EBM (AWS)","date":"2022-09-19","mm":10},{"site":"DY2","src":"EBM (AWS)","date":"2022-09-24","mm":5},{"site":"DY2","src":"EBM (AWS)","date":"2022-09-26","mm":3},{"site":"DY2","src":"EBM (AWS)","date":"2022-09-27","mm":5},{"site":"DY2","src":"EBM (AWS)","date":"2022-09-30","mm":0},{"site":"DY2","src":"EBM (AWS)","date":"2022-11-01","mm":0},
{"site":"DY2","src":"SMAP","date":"2022-06-16","mm":0},{"site":"DY2","src":"SMAP","date":"2022-07-03","mm":0},{"site":"DY2","src":"SMAP","date":"2022-07-05","mm":10},{"site":"DY2","src":"SMAP","date":"2022-07-08","mm":5},{"site":"DY2","src":"SMAP","date":"2022-07-11","mm":3},{"site":"DY2","src":"SMAP","date":"2022-07-14","mm":0},{"site":"DY2","src":"SMAP","date":"2022-07-18","mm":5},{"site":"DY2","src":"SMAP","date":"2022-07-21","mm":18},{"site":"DY2","src":"SMAP","date":"2022-07-23","mm":20},{"site":"DY2","src":"SMAP","date":"2022-07-27","mm":15},{"site":"DY2","src":"SMAP","date":"2022-07-30","mm":10},{"site":"DY2","src":"SMAP","date":"2022-08-02","mm":5},{"site":"DY2","src":"SMAP","date":"2022-08-05","mm":2},{"site":"DY2","src":"SMAP","date":"2022-08-06","mm":null},{"site":"DY2","src":"SMAP","date":"2022-10-15","mm":0},{"site":"DY2","src":"SMAP","date":"2022-11-01","mm":0},

{"site":"DY2","src":"GEMB (ERA5)","date":"2023-06-01","mm":0},{"site":"DY2","src":"GEMB (ERA5)","date":"2023-06-19","mm":0},{"site":"DY2","src":"GEMB (ERA5)","date":"2023-06-21","mm":2},{"site":"DY2","src":"GEMB (ERA5)","date":"2023-06-23","mm":0},{"site":"DY2","src":"GEMB (ERA5)","date":"2023-07-04","mm":0},{"site":"DY2","src":"GEMB (ERA5)","date":"2023-07-06","mm":35},{"site":"DY2","src":"GEMB (ERA5)","date":"2023-07-09","mm":28},{"site":"DY2","src":"GEMB (ERA5)","date":"2023-07-14","mm":20},{"site":"DY2","src":"GEMB (ERA5)","date":"2023-07-20","mm":10},{"site":"DY2","src":"GEMB (ERA5)","date":"2023-07-26","mm":0},{"site":"DY2","src":"GEMB (ERA5)","date":"2023-07-30","mm":2},{"site":"DY2","src":"GEMB (ERA5)","date":"2023-08-02","mm":0},{"site":"DY2","src":"GEMB (ERA5)","date":"2023-08-18","mm":0},{"site":"DY2","src":"GEMB (ERA5)","date":"2023-08-20","mm":8},{"site":"DY2","src":"GEMB (ERA5)","date":"2023-08-22","mm":4},{"site":"DY2","src":"GEMB (ERA5)","date":"2023-08-26","mm":2},{"site":"DY2","src":"GEMB (ERA5)","date":"2023-08-30","mm":0},{"site":"DY2","src":"GEMB (ERA5)","date":"2023-11-01","mm":0},
{"site":"DY2","src":"EBM (AWS)","date":"2023-06-01","mm":0},{"site":"DY2","src":"EBM (AWS)","date":"2023-07-04","mm":0},{"site":"DY2","src":"EBM (AWS)","date":"2023-07-06","mm":10},{"site":"DY2","src":"EBM (AWS)","date":"2023-07-09","mm":35},{"site":"DY2","src":"EBM (AWS)","date":"2023-07-12","mm":42},{"site":"DY2","src":"EBM (AWS)","date":"2023-07-15","mm":50},{"site":"DY2","src":"EBM (AWS)","date":"2023-07-19","mm":62},{"site":"DY2","src":"EBM (AWS)","date":"2023-07-24","mm":63},{"site":"DY2","src":"EBM (AWS)","date":"2023-07-27","mm":55},{"site":"DY2","src":"EBM (AWS)","date":"2023-07-30","mm":52},{"site":"DY2","src":"EBM (AWS)","date":"2023-08-03","mm":45},{"site":"DY2","src":"EBM (AWS)","date":"2023-08-08","mm":35},{"site":"DY2","src":"EBM (AWS)","date":"2023-08-13","mm":28},{"site":"DY2","src":"EBM (AWS)","date":"2023-08-18","mm":23},{"site":"DY2","src":"EBM (AWS)","date":"2023-08-20","mm":30},{"site":"DY2","src":"EBM (AWS)","date":"2023-08-22","mm":45},{"site":"DY2","src":"EBM (AWS)","date":"2023-08-25","mm":40},{"site":"DY2","src":"EBM (AWS)","date":"2023-08-31","mm":32},{"site":"DY2","src":"EBM (AWS)","date":"2023-09-08","mm":20},{"site":"DY2","src":"EBM (AWS)","date":"2023-09-16","mm":10},{"site":"DY2","src":"EBM (AWS)","date":"2023-09-24","mm":0},{"site":"DY2","src":"EBM (AWS)","date":"2023-11-01","mm":0},
{"site":"DY2","src":"SMAP","date":"2023-06-01","mm":0},{"site":"DY2","src":"SMAP","date":"2023-07-04","mm":0},{"site":"DY2","src":"SMAP","date":"2023-07-08","mm":30},{"site":"DY2","src":"SMAP","date":"2023-07-12","mm":45},{"site":"DY2","src":"SMAP","date":"2023-07-17","mm":55},{"site":"DY2","src":"SMAP","date":"2023-07-20","mm":57},{"site":"DY2","src":"SMAP","date":"2023-07-24","mm":55},{"site":"DY2","src":"SMAP","date":"2023-07-27","mm":57},{"site":"DY2","src":"SMAP","date":"2023-07-31","mm":61},{"site":"DY2","src":"SMAP","date":"2023-08-03","mm":50},{"site":"DY2","src":"SMAP","date":"2023-08-09","mm":40},{"site":"DY2","src":"SMAP","date":"2023-08-14","mm":33},{"site":"DY2","src":"SMAP","date":"2023-08-19","mm":28},{"site":"DY2","src":"SMAP","date":"2023-08-22","mm":45},{"site":"DY2","src":"SMAP","date":"2023-08-23","mm":48},{"site":"DY2","src":"SMAP","date":"2023-08-27","mm":38},{"site":"DY2","src":"SMAP","date":"2023-09-02","mm":30},{"site":"DY2","src":"SMAP","date":"2023-09-11","mm":22},{"site":"DY2","src":"SMAP","date":"2023-09-18","mm":12},{"site":"DY2","src":"SMAP","date":"2023-09-25","mm":5},{"site":"DY2","src":"SMAP","date":"2023-10-01","mm":2},{"site":"DY2","src":"SMAP","date":"2023-10-06","mm":0},{"site":"DY2","src":"SMAP","date":"2023-11-01","mm":0},

{"site":"SDM","src":"GEMB (ERA5)","date":"2021-06-21","mm":0},{"site":"SDM","src":"GEMB (ERA5)","date":"2021-06-23","mm":25},{"site":"SDM","src":"GEMB (ERA5)","date":"2021-06-25","mm":18},{"site":"SDM","src":"GEMB (ERA5)","date":"2021-06-27","mm":20},{"site":"SDM","src":"GEMB (ERA5)","date":"2021-06-29","mm":10},{"site":"SDM","src":"GEMB (ERA5)","date":"2021-07-02","mm":2},{"site":"SDM","src":"GEMB (ERA5)","date":"2021-07-05","mm":0},{"site":"SDM","src":"GEMB (ERA5)","date":"2021-07-12","mm":0},{"site":"SDM","src":"GEMB (ERA5)","date":"2021-07-13","mm":5},{"site":"SDM","src":"GEMB (ERA5)","date":"2021-07-15","mm":0},{"site":"SDM","src":"GEMB (ERA5)","date":"2021-07-17","mm":32},{"site":"SDM","src":"GEMB (ERA5)","date":"2021-07-19","mm":25},{"site":"SDM","src":"GEMB (ERA5)","date":"2021-07-23","mm":15},{"site":"SDM","src":"GEMB (ERA5)","date":"2021-07-27","mm":10},{"site":"SDM","src":"GEMB (ERA5)","date":"2021-07-30","mm":5},{"site":"SDM","src":"GEMB (ERA5)","date":"2021-08-02","mm":0},{"site":"SDM","src":"GEMB (ERA5)","date":"2021-08-13","mm":0},{"site":"SDM","src":"GEMB (ERA5)","date":"2021-08-16","mm":30},{"site":"SDM","src":"GEMB (ERA5)","date":"2021-08-17","mm":35},{"site":"SDM","src":"GEMB (ERA5)","date":"2021-08-20","mm":25},{"site":"SDM","src":"GEMB (ERA5)","date":"2021-08-26","mm":10},{"site":"SDM","src":"GEMB (ERA5)","date":"2021-08-31","mm":0},{"site":"SDM","src":"GEMB (ERA5)","date":"2021-11-01","mm":0},
{"site":"SDM","src":"EBM (AWS)","date":"2021-06-21","mm":0},{"site":"SDM","src":"EBM (AWS)","date":"2021-06-25","mm":5},{"site":"SDM","src":"EBM (AWS)","date":"2021-06-28","mm":0},{"site":"SDM","src":"EBM (AWS)","date":"2021-07-15","mm":0},{"site":"SDM","src":"EBM (AWS)","date":"2021-07-17","mm":20},{"site":"SDM","src":"EBM (AWS)","date":"2021-07-22","mm":12},{"site":"SDM","src":"EBM (AWS)","date":"2021-07-26","mm":8},{"site":"SDM","src":"EBM (AWS)","date":"2021-07-28","mm":15},{"site":"SDM","src":"EBM (AWS)","date":"2021-08-02","mm":10},{"site":"SDM","src":"EBM (AWS)","date":"2021-08-08","mm":0},{"site":"SDM","src":"EBM (AWS)","date":"2021-08-13","mm":0},{"site":"SDM","src":"EBM (AWS)","date":"2021-08-18","mm":40},{"site":"SDM","src":"EBM (AWS)","date":"2021-08-20","mm":37},{"site":"SDM","src":"EBM (AWS)","date":"2021-08-27","mm":25},{"site":"SDM","src":"EBM (AWS)","date":"2021-09-04","mm":15},{"site":"SDM","src":"EBM (AWS)","date":"2021-09-10","mm":5},{"site":"SDM","src":"EBM (AWS)","date":"2021-09-15","mm":0},{"site":"SDM","src":"EBM (AWS)","date":"2021-11-01","mm":0},
{"site":"SDM","src":"SMAP","date":"2021-06-21","mm":0},{"site":"SDM","src":"SMAP","date":"2021-07-16","mm":0},{"site":"SDM","src":"SMAP","date":"2021-07-18","mm":18},{"site":"SDM","src":"SMAP","date":"2021-07-19","mm":5},{"site":"SDM","src":"SMAP","date":"2021-07-20","mm":0},{"site":"SDM","src":"SMAP","date":"2021-08-15","mm":0},{"site":"SDM","src":"SMAP","date":"2021-08-17","mm":35},{"site":"SDM","src":"SMAP","date":"2021-08-19","mm":20},{"site":"SDM","src":"SMAP","date":"2021-08-21","mm":0},{"site":"SDM","src":"SMAP","date":"2021-11-01","mm":0},

{"site":"SDM","src":"GEMB (ERA5)","date":"2022-06-01","mm":0},{"site":"SDM","src":"GEMB (ERA5)","date":"2022-06-17","mm":0},{"site":"SDM","src":"GEMB (ERA5)","date":"2022-06-19","mm":9},{"site":"SDM","src":"GEMB (ERA5)","date":"2022-06-21","mm":1},{"site":"SDM","src":"GEMB (ERA5)","date":"2022-06-24","mm":0},{"site":"SDM","src":"GEMB (ERA5)","date":"2022-07-11","mm":0},{"site":"SDM","src":"GEMB (ERA5)","date":"2022-07-13","mm":1},{"site":"SDM","src":"GEMB (ERA5)","date":"2022-07-18","mm":1},{"site":"SDM","src":"GEMB (ERA5)","date":"2022-07-21","mm":2},{"site":"SDM","src":"GEMB (ERA5)","date":"2022-07-25","mm":1},{"site":"SDM","src":"GEMB (ERA5)","date":"2022-08-04","mm":0},{"site":"SDM","src":"GEMB (ERA5)","date":"2022-11-01","mm":0},
{"site":"SDM","src":"EBM (AWS)","date":"2022-06-01","mm":0},{"site":"SDM","src":"EBM (AWS)","date":"2022-07-18","mm":0},{"site":"SDM","src":"EBM (AWS)","date":"2022-07-22","mm":1.5},{"site":"SDM","src":"EBM (AWS)","date":"2022-07-26","mm":1},{"site":"SDM","src":"EBM (AWS)","date":"2022-07-29","mm":0},{"site":"SDM","src":"EBM (AWS)","date":"2022-09-02","mm":0},{"site":"SDM","src":"EBM (AWS)","date":"2022-09-03","mm":7},{"site":"SDM","src":"EBM (AWS)","date":"2022-09-05","mm":0},{"site":"SDM","src":"EBM (AWS)","date":"2022-09-26","mm":0},{"site":"SDM","src":"EBM (AWS)","date":"2022-09-27","mm":2},{"site":"SDM","src":"EBM (AWS)","date":"2022-09-28","mm":0},{"site":"SDM","src":"EBM (AWS)","date":"2022-10-14","mm":0},
{"site":"SDM","src":"SMAP","date":"2022-06-01","mm":0},{"site":"SDM","src":"SMAP","date":"2022-08-05","mm":0},{"site":"SDM","src":"SMAP","date":"2022-08-06","mm":null},{"site":"SDM","src":"SMAP","date":"2022-10-15","mm":0},{"site":"SDM","src":"SMAP","date":"2022-11-01","mm":0},

{"site":"SDM","src":"GEMB (ERA5)","date":"2023-06-01","mm":0},{"site":"SDM","src":"GEMB (ERA5)","date":"2023-07-04","mm":0},{"site":"SDM","src":"GEMB (ERA5)","date":"2023-07-07","mm":15},{"site":"SDM","src":"GEMB (ERA5)","date":"2023-07-08","mm":20},{"site":"SDM","src":"GEMB (ERA5)","date":"2023-07-13","mm":30},{"site":"SDM","src":"GEMB (ERA5)","date":"2023-07-16","mm":35},{"site":"SDM","src":"GEMB (ERA5)","date":"2023-07-19","mm":40},{"site":"SDM","src":"GEMB (ERA5)","date":"2023-07-22","mm":45},{"site":"SDM","src":"GEMB (ERA5)","date":"2023-07-24","mm":47},{"site":"SDM","src":"GEMB (ERA5)","date":"2023-07-26","mm":40},{"site":"SDM","src":"GEMB (ERA5)","date":"2023-07-31","mm":25},{"site":"SDM","src":"GEMB (ERA5)","date":"2023-08-04","mm":15},{"site":"SDM","src":"GEMB (ERA5)","date":"2023-08-08","mm":5},{"site":"SDM","src":"GEMB (ERA5)","date":"2023-08-10","mm":0},{"site":"SDM","src":"GEMB (ERA5)","date":"2023-11-01","mm":0},
{"site":"SDM","src":"EBM (AWS)","date":"2023-06-01","mm":0},{"site":"SDM","src":"EBM (AWS)","date":"2023-07-04","mm":0},{"site":"SDM","src":"EBM (AWS)","date":"2023-07-05","mm":10},{"site":"SDM","src":"EBM (AWS)","date":"2023-07-09","mm":25},{"site":"SDM","src":"EBM (AWS)","date":"2023-07-14","mm":35},{"site":"SDM","src":"EBM (AWS)","date":"2023-07-17","mm":40},{"site":"SDM","src":"EBM (AWS)","date":"2023-07-20","mm":51},{"site":"SDM","src":"EBM (AWS)","date":"2023-07-22","mm":45},{"site":"SDM","src":"EBM (AWS)","date":"2023-07-25","mm":40},{"site":"SDM","src":"EBM (AWS)","date":"2023-07-29","mm":32},{"site":"SDM","src":"EBM (AWS)","date":"2023-08-04","mm":25},{"site":"SDM","src":"EBM (AWS)","date":"2023-08-11","mm":15},{"site":"SDM","src":"EBM (AWS)","date":"2023-08-17","mm":8},{"site":"SDM","src":"EBM (AWS)","date":"2023-08-19","mm":5},{"site":"SDM","src":"EBM (AWS)","date":"2023-08-21","mm":8},{"site":"SDM","src":"EBM (AWS)","date":"2023-08-23","mm":5},{"site":"SDM","src":"EBM (AWS)","date":"2023-08-26","mm":0},{"site":"SDM","src":"EBM (AWS)","date":"2023-11-01","mm":0},
{"site":"SDM","src":"SMAP","date":"2023-06-01","mm":0},{"site":"SDM","src":"SMAP","date":"2023-07-06","mm":0},{"site":"SDM","src":"SMAP","date":"2023-07-07","mm":7},{"site":"SDM","src":"SMAP","date":"2023-07-08","mm":2},{"site":"SDM","src":"SMAP","date":"2023-07-10","mm":20},{"site":"SDM","src":"SMAP","date":"2023-07-14","mm":35},{"site":"SDM","src":"SMAP","date":"2023-07-18","mm":42},{"site":"SDM","src":"SMAP","date":"2023-07-23","mm":45},{"site":"SDM","src":"SMAP","date":"2023-07-25","mm":40},{"site":"SDM","src":"SMAP","date":"2023-07-28","mm":30},{"site":"SDM","src":"SMAP","date":"2023-07-31","mm":15},{"site":"SDM","src":"SMAP","date":"2023-08-01","mm":0},{"site":"SDM","src":"SMAP","date":"2023-11-01","mm":0},

{"site":"SDL","src":"GEMB (ERA5)","date":"2021-06-15","mm":0},{"site":"SDL","src":"GEMB (ERA5)","date":"2021-06-21","mm":0},{"site":"SDL","src":"GEMB (ERA5)","date":"2021-06-23","mm":12},{"site":"SDL","src":"GEMB (ERA5)","date":"2021-06-25","mm":10},{"site":"SDL","src":"GEMB (ERA5)","date":"2021-06-27","mm":15},{"site":"SDL","src":"GEMB (ERA5)","date":"2021-06-29","mm":8},{"site":"SDL","src":"GEMB (ERA5)","date":"2021-07-01","mm":5},{"site":"SDL","src":"GEMB (ERA5)","date":"2021-07-03","mm":8},{"site":"SDL","src":"GEMB (ERA5)","date":"2021-07-05","mm":2},{"site":"SDL","src":"GEMB (ERA5)","date":"2021-07-09","mm":0},{"site":"SDL","src":"GEMB (ERA5)","date":"2021-07-11","mm":5},{"site":"SDL","src":"GEMB (ERA5)","date":"2021-07-13","mm":12},{"site":"SDL","src":"GEMB (ERA5)","date":"2021-07-15","mm":5},{"site":"SDL","src":"GEMB (ERA5)","date":"2021-07-18","mm":33},{"site":"SDL","src":"GEMB (ERA5)","date":"2021-07-20","mm":25},{"site":"SDL","src":"GEMB (ERA5)","date":"2021-07-23","mm":15},{"site":"SDL","src":"GEMB (ERA5)","date":"2021-07-26","mm":8},{"site":"SDL","src":"GEMB (ERA5)","date":"2021-07-30","mm":3},{"site":"SDL","src":"GEMB (ERA5)","date":"2021-08-02","mm":0},{"site":"SDL","src":"GEMB (ERA5)","date":"2021-08-13","mm":0},{"site":"SDL","src":"GEMB (ERA5)","date":"2021-08-15","mm":30},{"site":"SDL","src":"GEMB (ERA5)","date":"2021-08-19","mm":25},{"site":"SDL","src":"GEMB (ERA5)","date":"2021-08-22","mm":15},{"site":"SDL","src":"GEMB (ERA5)","date":"2021-08-26","mm":5},{"site":"SDL","src":"GEMB (ERA5)","date":"2021-08-29","mm":0},{"site":"SDL","src":"GEMB (ERA5)","date":"2021-11-01","mm":0},
{"site":"SDL","src":"EBM (AWS)","date":"2021-06-15","mm":0},{"site":"SDL","src":"EBM (AWS)","date":"2021-06-21","mm":0},{"site":"SDL","src":"EBM (AWS)","date":"2021-06-24","mm":2},{"site":"SDL","src":"EBM (AWS)","date":"2021-06-27","mm":0},{"site":"SDL","src":"EBM (AWS)","date":"2021-07-02","mm":3},{"site":"SDL","src":"EBM (AWS)","date":"2021-07-05","mm":0},{"site":"SDL","src":"EBM (AWS)","date":"2021-07-15","mm":0},{"site":"SDL","src":"EBM (AWS)","date":"2021-07-19","mm":17},{"site":"SDL","src":"EBM (AWS)","date":"2021-07-23","mm":12},{"site":"SDL","src":"EBM (AWS)","date":"2021-07-26","mm":8},{"site":"SDL","src":"EBM (AWS)","date":"2021-07-30","mm":18},{"site":"SDL","src":"EBM (AWS)","date":"2021-07-31","mm":20},{"site":"SDL","src":"EBM (AWS)","date":"2021-08-05","mm":15},{"site":"SDL","src":"EBM (AWS)","date":"2021-08-11","mm":5},{"site":"SDL","src":"EBM (AWS)","date":"2021-08-13","mm":3},{"site":"SDL","src":"EBM (AWS)","date":"2021-08-16","mm":30},{"site":"SDL","src":"EBM (AWS)","date":"2021-08-19","mm":40},{"site":"SDL","src":"EBM (AWS)","date":"2021-08-22","mm":35},{"site":"SDL","src":"EBM (AWS)","date":"2021-08-27","mm":28},{"site":"SDL","src":"EBM (AWS)","date":"2021-09-04","mm":18},{"site":"SDL","src":"EBM (AWS)","date":"2021-09-13","mm":8},{"site":"SDL","src":"EBM (AWS)","date":"2021-09-21","mm":0},{"site":"SDL","src":"EBM (AWS)","date":"2021-11-01","mm":0},
{"site":"SDL","src":"SMAP","date":"2021-06-15","mm":0},{"site":"SDL","src":"SMAP","date":"2021-07-18","mm":0},{"site":"SDL","src":"SMAP","date":"2021-07-20","mm":12},{"site":"SDL","src":"SMAP","date":"2021-07-21","mm":0},{"site":"SDL","src":"SMAP","date":"2021-07-27","mm":0},{"site":"SDL","src":"SMAP","date":"2021-07-29","mm":5},{"site":"SDL","src":"SMAP","date":"2021-07-31","mm":3},{"site":"SDL","src":"SMAP","date":"2021-08-02","mm":0},{"site":"SDL","src":"SMAP","date":"2021-08-13","mm":0},{"site":"SDL","src":"SMAP","date":"2021-08-17","mm":18},{"site":"SDL","src":"SMAP","date":"2021-08-20","mm":20},{"site":"SDL","src":"SMAP","date":"2021-08-22","mm":15},{"site":"SDL","src":"SMAP","date":"2021-08-25","mm":5},{"site":"SDL","src":"SMAP","date":"2021-08-28","mm":0},{"site":"SDL","src":"SMAP","date":"2021-11-01","mm":0},

{"site":"SDL","src":"GEMB (ERA5)","date":"2022-06-01","mm":0},{"site":"SDL","src":"GEMB (ERA5)","date":"2022-06-16","mm":0},{"site":"SDL","src":"GEMB (ERA5)","date":"2022-06-18","mm":5},{"site":"SDL","src":"GEMB (ERA5)","date":"2022-06-19","mm":13},{"site":"SDL","src":"GEMB (ERA5)","date":"2022-06-20","mm":10},{"site":"SDL","src":"GEMB (ERA5)","date":"2022-06-22","mm":2},{"site":"SDL","src":"GEMB (ERA5)","date":"2022-06-24","mm":0},{"site":"SDL","src":"GEMB (ERA5)","date":"2022-06-30","mm":0},{"site":"SDL","src":"GEMB (ERA5)","date":"2022-07-01","mm":2},{"site":"SDL","src":"GEMB (ERA5)","date":"2022-07-02","mm":0},{"site":"SDL","src":"GEMB (ERA5)","date":"2022-07-04","mm":5},{"site":"SDL","src":"GEMB (ERA5)","date":"2022-07-06","mm":3},{"site":"SDL","src":"GEMB (ERA5)","date":"2022-07-08","mm":0},{"site":"SDL","src":"GEMB (ERA5)","date":"2022-07-15","mm":0},{"site":"SDL","src":"GEMB (ERA5)","date":"2022-07-16","mm":1},{"site":"SDL","src":"GEMB (ERA5)","date":"2022-07-18","mm":0},{"site":"SDL","src":"GEMB (ERA5)","date":"2022-08-04","mm":0},{"site":"SDL","src":"GEMB (ERA5)","date":"2022-08-05","mm":1},{"site":"SDL","src":"GEMB (ERA5)","date":"2022-08-07","mm":0},{"site":"SDL","src":"GEMB (ERA5)","date":"2022-11-01","mm":0},
{"site":"SDL","src":"EBM (AWS)","date":"2022-06-01","mm":0},{"site":"SDL","src":"EBM (AWS)","date":"2022-06-17","mm":0},{"site":"SDL","src":"EBM (AWS)","date":"2022-06-19","mm":3},{"site":"SDL","src":"EBM (AWS)","date":"2022-06-21","mm":0},{"site":"SDL","src":"EBM (AWS)","date":"2022-07-19","mm":0},{"site":"SDL","src":"EBM (AWS)","date":"2022-07-21","mm":6},{"site":"SDL","src":"EBM (AWS)","date":"2022-07-23","mm":7},{"site":"SDL","src":"EBM (AWS)","date":"2022-07-26","mm":3},{"site":"SDL","src":"EBM (AWS)","date":"2022-07-27","mm":0},{"site":"SDL","src":"EBM (AWS)","date":"2022-09-02","mm":0},{"site":"SDL","src":"EBM (AWS)","date":"2022-09-04","mm":8},{"site":"SDL","src":"EBM (AWS)","date":"2022-09-06","mm":0},{"site":"SDL","src":"EBM (AWS)","date":"2022-09-26","mm":0},{"site":"SDL","src":"EBM (AWS)","date":"2022-09-27","mm":1},{"site":"SDL","src":"EBM (AWS)","date":"2022-09-28","mm":0},{"site":"SDL","src":"EBM (AWS)","date":"2022-10-14","mm":0},
{"site":"SDL","src":"SMAP","date":"2022-06-01","mm":0},{"site":"SDL","src":"SMAP","date":"2022-08-05","mm":0},{"site":"SDL","src":"SMAP","date":"2022-08-06","mm":null},{"site":"SDL","src":"SMAP","date":"2022-10-15","mm":0},{"site":"SDL","src":"SMAP","date":"2022-11-01","mm":0},

{"site":"SDL","src":"GEMB (ERA5)","date":"2023-06-01","mm":0},{"site":"SDL","src":"GEMB (ERA5)","date":"2023-06-12","mm":0},{"site":"SDL","src":"GEMB (ERA5)","date":"2023-06-13","mm":1},{"site":"SDL","src":"GEMB (ERA5)","date":"2023-06-14","mm":0},{"site":"SDL","src":"GEMB (ERA5)","date":"2023-06-24","mm":0},{"site":"SDL","src":"GEMB (ERA5)","date":"2023-06-25","mm":2},{"site":"SDL","src":"GEMB (ERA5)","date":"2023-06-26","mm":0},{"site":"SDL","src":"GEMB (ERA5)","date":"2023-07-04","mm":0},{"site":"SDL","src":"GEMB (ERA5)","date":"2023-07-06","mm":20},{"site":"SDL","src":"GEMB (ERA5)","date":"2023-07-08","mm":35},{"site":"SDL","src":"GEMB (ERA5)","date":"2023-07-11","mm":45},{"site":"SDL","src":"GEMB (ERA5)","date":"2023-07-15","mm":55},{"site":"SDL","src":"GEMB (ERA5)","date":"2023-07-17","mm":60},{"site":"SDL","src":"GEMB (ERA5)","date":"2023-07-20","mm":72},{"site":"SDL","src":"GEMB (ERA5)","date":"2023-07-22","mm":77},{"site":"SDL","src":"GEMB (ERA5)","date":"2023-07-24","mm":70},{"site":"SDL","src":"GEMB (ERA5)","date":"2023-07-28","mm":60},{"site":"SDL","src":"GEMB (ERA5)","date":"2023-07-31","mm":52},{"site":"SDL","src":"GEMB (ERA5)","date":"2023-08-03","mm":45},{"site":"SDL","src":"GEMB (ERA5)","date":"2023-08-07","mm":35},{"site":"SDL","src":"GEMB (ERA5)","date":"2023-08-11","mm":28},{"site":"SDL","src":"GEMB (ERA5)","date":"2023-08-17","mm":20},{"site":"SDL","src":"GEMB (ERA5)","date":"2023-08-19","mm":15},{"site":"SDL","src":"GEMB (ERA5)","date":"2023-08-21","mm":23},{"site":"SDL","src":"GEMB (ERA5)","date":"2023-08-24","mm":15},{"site":"SDL","src":"GEMB (ERA5)","date":"2023-08-28","mm":8},{"site":"SDL","src":"GEMB (ERA5)","date":"2023-09-01","mm":2},{"site":"SDL","src":"GEMB (ERA5)","date":"2023-09-05","mm":1},{"site":"SDL","src":"GEMB (ERA5)","date":"2023-09-08","mm":0},{"site":"SDL","src":"GEMB (ERA5)","date":"2023-11-01","mm":0},
{"site":"SDL","src":"EBM (AWS)","date":"2023-06-01","mm":0},{"site":"SDL","src":"EBM (AWS)","date":"2023-07-04","mm":0},{"site":"SDL","src":"EBM (AWS)","date":"2023-07-06","mm":15},{"site":"SDL","src":"EBM (AWS)","date":"2023-07-09","mm":35},{"site":"SDL","src":"EBM (AWS)","date":"2023-07-13","mm":50},{"site":"SDL","src":"EBM (AWS)","date":"2023-07-17","mm":62},{"site":"SDL","src":"EBM (AWS)","date":"2023-07-21","mm":75},{"site":"SDL","src":"EBM (AWS)","date":"2023-07-23","mm":76},{"site":"SDL","src":"EBM (AWS)","date":"2023-07-25","mm":70},{"site":"SDL","src":"EBM (AWS)","date":"2023-07-30","mm":65},{"site":"SDL","src":"EBM (AWS)","date":"2023-08-07","mm":55},{"site":"SDL","src":"EBM (AWS)","date":"2023-08-14","mm":45},{"site":"SDL","src":"EBM (AWS)","date":"2023-08-19","mm":38},{"site":"SDL","src":"EBM (AWS)","date":"2023-08-21","mm":44},{"site":"SDL","src":"EBM (AWS)","date":"2023-08-24","mm":40},{"site":"SDL","src":"EBM (AWS)","date":"2023-08-28","mm":33},{"site":"SDL","src":"EBM (AWS)","date":"2023-09-01","mm":30},{"site":"SDL","src":"EBM (AWS)","date":"2023-09-08","mm":25},{"site":"SDL","src":"EBM (AWS)","date":"2023-09-17","mm":17},{"site":"SDL","src":"EBM (AWS)","date":"2023-09-24","mm":10},{"site":"SDL","src":"EBM (AWS)","date":"2023-09-28","mm":8},{"site":"SDL","src":"EBM (AWS)","date":"2023-09-30","mm":null},{"site":"SDL","src":"EBM (AWS)","date":"2023-10-03","mm":5},{"site":"SDL","src":"EBM (AWS)","date":"2023-10-09","mm":0},{"site":"SDL","src":"EBM (AWS)","date":"2023-11-01","mm":0},
{"site":"SDL","src":"SMAP","date":"2023-06-01","mm":0},{"site":"SDL","src":"SMAP","date":"2023-07-04","mm":0},{"site":"SDL","src":"SMAP","date":"2023-07-06","mm":10},{"site":"SDL","src":"SMAP","date":"2023-07-09","mm":22},{"site":"SDL","src":"SMAP","date":"2023-07-13","mm":32},{"site":"SDL","src":"SMAP","date":"2023-07-18","mm":40},{"site":"SDL","src":"SMAP","date":"2023-07-21","mm":42},{"site":"SDL","src":"SMAP","date":"2023-07-24","mm":38},{"site":"SDL","src":"SMAP","date":"2023-07-28","mm":28},{"site":"SDL","src":"SMAP","date":"2023-08-02","mm":20},{"site":"SDL","src":"SMAP","date":"2023-08-06","mm":8},{"site":"SDL","src":"SMAP","date":"2023-08-09","mm":0},{"site":"SDL","src":"SMAP","date":"2023-08-18","mm":0},{"site":"SDL","src":"SMAP","date":"2023-08-20","mm":12},{"site":"SDL","src":"SMAP","date":"2023-08-22","mm":5},{"site":"SDL","src":"SMAP","date":"2023-08-24","mm":0},{"site":"SDL","src":"SMAP","date":"2023-11-01","mm":0},

{"site":"NSE","src":"GEMB (ERA5)","date":"2021-06-20","mm":0},{"site":"NSE","src":"GEMB (ERA5)","date":"2021-06-25","mm":0},{"site":"NSE","src":"GEMB (ERA5)","date":"2021-06-26","mm":2},{"site":"NSE","src":"GEMB (ERA5)","date":"2021-06-28","mm":0},{"site":"NSE","src":"GEMB (ERA5)","date":"2021-07-03","mm":4},{"site":"NSE","src":"GEMB (ERA5)","date":"2021-07-05","mm":2},{"site":"NSE","src":"GEMB (ERA5)","date":"2021-07-08","mm":0},{"site":"NSE","src":"GEMB (ERA5)","date":"2021-07-10","mm":10},{"site":"NSE","src":"GEMB (ERA5)","date":"2021-07-13","mm":12},{"site":"NSE","src":"GEMB (ERA5)","date":"2021-07-15","mm":8},{"site":"NSE","src":"GEMB (ERA5)","date":"2021-07-18","mm":28},{"site":"NSE","src":"GEMB (ERA5)","date":"2021-07-20","mm":20},{"site":"NSE","src":"GEMB (ERA5)","date":"2021-07-24","mm":10},{"site":"NSE","src":"GEMB (ERA5)","date":"2021-07-28","mm":2},{"site":"NSE","src":"GEMB (ERA5)","date":"2021-07-30","mm":0},{"site":"NSE","src":"GEMB (ERA5)","date":"2021-08-12","mm":0},{"site":"NSE","src":"GEMB (ERA5)","date":"2021-08-14","mm":15},{"site":"NSE","src":"GEMB (ERA5)","date":"2021-08-17","mm":18},{"site":"NSE","src":"GEMB (ERA5)","date":"2021-08-20","mm":12},{"site":"NSE","src":"GEMB (ERA5)","date":"2021-08-23","mm":5},{"site":"NSE","src":"GEMB (ERA5)","date":"2021-08-26","mm":0},{"site":"NSE","src":"GEMB (ERA5)","date":"2021-11-01","mm":0},
{"site":"NSE","src":"EBM (AWS)","date":"2021-06-20","mm":0},{"site":"NSE","src":"EBM (AWS)","date":"2021-07-02","mm":0},{"site":"NSE","src":"EBM (AWS)","date":"2021-07-04","mm":3},{"site":"NSE","src":"EBM (AWS)","date":"2021-07-06","mm":0},{"site":"NSE","src":"EBM (AWS)","date":"2021-07-16","mm":0},{"site":"NSE","src":"EBM (AWS)","date":"2021-07-19","mm":10},{"site":"NSE","src":"EBM (AWS)","date":"2021-07-22","mm":5},{"site":"NSE","src":"EBM (AWS)","date":"2021-07-25","mm":0},{"site":"NSE","src":"EBM (AWS)","date":"2021-07-31","mm":6},{"site":"NSE","src":"EBM (AWS)","date":"2021-08-04","mm":0},{"site":"NSE","src":"EBM (AWS)","date":"2021-08-13","mm":0},{"site":"NSE","src":"EBM (AWS)","date":"2021-08-15","mm":12},{"site":"NSE","src":"EBM (AWS)","date":"2021-08-17","mm":18},{"site":"NSE","src":"EBM (AWS)","date":"2021-08-20","mm":18},{"site":"NSE","src":"EBM (AWS)","date":"2021-08-26","mm":10},{"site":"NSE","src":"EBM (AWS)","date":"2021-08-31","mm":0},{"site":"NSE","src":"EBM (AWS)","date":"2021-11-01","mm":0},
{"site":"NSE","src":"SMAP","date":"2021-06-20","mm":0},{"site":"NSE","src":"SMAP","date":"2021-07-17","mm":0},{"site":"NSE","src":"SMAP","date":"2021-07-19","mm":2},{"site":"NSE","src":"SMAP","date":"2021-07-21","mm":0},{"site":"NSE","src":"SMAP","date":"2021-11-01","mm":0},

{"site":"NSE","src":"GEMB (ERA5)","date":"2022-06-01","mm":0},{"site":"NSE","src":"GEMB (ERA5)","date":"2022-06-18","mm":0},{"site":"NSE","src":"GEMB (ERA5)","date":"2022-06-19","mm":1},{"site":"NSE","src":"GEMB (ERA5)","date":"2022-06-22","mm":1},{"site":"NSE","src":"GEMB (ERA5)","date":"2022-06-24","mm":0},{"site":"NSE","src":"GEMB (ERA5)","date":"2022-07-03","mm":0},{"site":"NSE","src":"GEMB (ERA5)","date":"2022-07-04","mm":5},{"site":"NSE","src":"GEMB (ERA5)","date":"2022-07-06","mm":2},{"site":"NSE","src":"GEMB (ERA5)","date":"2022-07-08","mm":0},{"site":"NSE","src":"GEMB (ERA5)","date":"2022-07-13","mm":0},{"site":"NSE","src":"GEMB (ERA5)","date":"2022-07-14","mm":2},{"site":"NSE","src":"GEMB (ERA5)","date":"2022-07-16","mm":0},{"site":"NSE","src":"GEMB (ERA5)","date":"2022-11-01","mm":0},
{"site":"NSE","src":"SMAP","date":"2022-06-01","mm":0},{"site":"NSE","src":"SMAP","date":"2022-08-05","mm":0},{"site":"NSE","src":"SMAP","date":"2022-08-06","mm":null},{"site":"NSE","src":"SMAP","date":"2022-10-15","mm":0},{"site":"NSE","src":"SMAP","date":"2022-11-01","mm":0},

{"site":"NSE","src":"GEMB (ERA5)","date":"2023-06-01","mm":0},{"site":"NSE","src":"GEMB (ERA5)","date":"2023-06-24","mm":0},{"site":"NSE","src":"GEMB (ERA5)","date":"2023-06-25","mm":2},{"site":"NSE","src":"GEMB (ERA5)","date":"2023-06-26","mm":0},{"site":"NSE","src":"GEMB (ERA5)","date":"2023-07-04","mm":0},{"site":"NSE","src":"GEMB (ERA5)","date":"2023-07-06","mm":25},{"site":"NSE","src":"GEMB (ERA5)","date":"2023-07-09","mm":30},{"site":"NSE","src":"GEMB (ERA5)","date":"2023-07-12","mm":35},{"site":"NSE","src":"GEMB (ERA5)","date":"2023-07-14","mm":35},{"site":"NSE","src":"GEMB (ERA5)","date":"2023-07-17","mm":40},{"site":"NSE","src":"GEMB (ERA5)","date":"2023-07-20","mm":55},{"site":"NSE","src":"GEMB (ERA5)","date":"2023-07-21","mm":60},{"site":"NSE","src":"GEMB (ERA5)","date":"2023-07-23","mm":58},{"site":"NSE","src":"GEMB (ERA5)","date":"2023-07-26","mm":45},{"site":"NSE","src":"GEMB (ERA5)","date":"2023-07-31","mm":37},{"site":"NSE","src":"GEMB (ERA5)","date":"2023-08-04","mm":30},{"site":"NSE","src":"GEMB (ERA5)","date":"2023-08-11","mm":15},{"site":"NSE","src":"GEMB (ERA5)","date":"2023-08-16","mm":5},{"site":"NSE","src":"GEMB (ERA5)","date":"2023-08-19","mm":0},{"site":"NSE","src":"GEMB (ERA5)","date":"2023-11-01","mm":0},
{"site":"NSE","src":"EBM (AWS)","date":"2023-06-01","mm":0},{"site":"NSE","src":"EBM (AWS)","date":"2023-07-04","mm":0},{"site":"NSE","src":"EBM (AWS)","date":"2023-07-07","mm":10},{"site":"NSE","src":"EBM (AWS)","date":"2023-07-12","mm":17},{"site":"NSE","src":"EBM (AWS)","date":"2023-07-14","mm":15},{"site":"NSE","src":"EBM (AWS)","date":"2023-07-17","mm":25},{"site":"NSE","src":"EBM (AWS)","date":"2023-07-20","mm":31},{"site":"NSE","src":"EBM (AWS)","date":"2023-07-22","mm":30},{"site":"NSE","src":"EBM (AWS)","date":"2023-07-26","mm":20},{"site":"NSE","src":"EBM (AWS)","date":"2023-07-30","mm":10},{"site":"NSE","src":"EBM (AWS)","date":"2023-08-05","mm":0},{"site":"NSE","src":"EBM (AWS)","date":"2023-08-19","mm":0},{"site":"NSE","src":"EBM (AWS)","date":"2023-08-21","mm":6},{"site":"NSE","src":"EBM (AWS)","date":"2023-08-23","mm":0},{"site":"NSE","src":"EBM (AWS)","date":"2023-11-01","mm":0},
{"site":"NSE","src":"SMAP","date":"2023-06-01","mm":0},{"site":"NSE","src":"SMAP","date":"2023-07-05","mm":0},{"site":"NSE","src":"SMAP","date":"2023-07-09","mm":2},{"site":"NSE","src":"SMAP","date":"2023-07-12","mm":10},{"site":"NSE","src":"SMAP","date":"2023-07-16","mm":15},{"site":"NSE","src":"SMAP","date":"2023-07-20","mm":20},{"site":"NSE","src":"SMAP","date":"2023-07-21","mm":22},{"site":"NSE","src":"SMAP","date":"2023-07-26","mm":15},{"site":"NSE","src":"SMAP","date":"2023-07-30","mm":5},{"site":"NSE","src":"SMAP","date":"2023-08-02","mm":0},{"site":"NSE","src":"SMAP","date":"2023-11-01","mm":0}
]},
"facet":{
 "row":{"field":"site","type":"nominal","sort":["KAN_U","CP1","DY2","SDM","SDL","NSE"],"title":"Liquid Water Amount [mm]",
  "header":{"labelOrient":"right","labelAngle":90,"labelFont":"Liberation Sans","labelFontSize":15,"labelFontWeight":"bold","labelColor":"#222","labelPadding":8,
   "titleOrient":"left","titleFont":"Liberation Sans","titleFontSize":15,"titleFontWeight":"bold","titleColor":"#222","titlePadding":25}},
 "column":{"field":"date","timeUnit":"utcyear","type":"ordinal","title":"Month",
  "header":{"labelOrient":"top","labelFont":"Liberation Sans","labelFontSize":17,"labelFontWeight":"bold","labelColor":"#222","labelPadding":4,
   "titleOrient":"bottom","titleFont":"Liberation Sans","titleFontSize":15,"titleFontWeight":"bold","titleColor":"#222","titlePadding":34}}
},
"spacing":{"row":29.5,"column":52},
"bounds":"flush",
"resolve":{"axis":{"x":"independent","y":"independent"}},
"spec":{
 "width":355,"height":186,
 "layer":[
  {"transform":[{"filter":"isValid(datum.lab) && indexof(['(b)','(e)','(h)','(k)','(n)','(q)'], datum.lab) >= 0"}],
   "mark":{"type":"rect","fill":"#000000","fillOpacity":0.035,"stroke":"#a8a8a8","strokeDash":[6,4],"strokeWidth":1.2},
   "encoding":{
    "x":{"datum":{"year":2012,"month":8,"date":6,"utc":true},"type":"temporal",
      "scale":{"domain":[{"year":2012,"month":6,"date":1,"utc":true},{"year":2012,"month":11,"date":1,"utc":true}],"nice":false},
      "axis":{"title":null,"grid":true,"ticks":false,"domain":false,"tickCount":200,"labelPadding":11,"labelOverlap":false,"labelFlush":false,"labelBound":false,
        "labelFont":"Liberation Sans","labelFontSize":16,"labelFontWeight":"bold","labelColor":"#262626",
        "values":[{"year":2012,"month":6,"date":1,"utc":true},{"year":2012,"month":6,"date":7,"utc":true},{"year":2012,"month":6,"date":13,"utc":true},{"year":2012,"month":6,"date":19,"utc":true},{"year":2012,"month":6,"date":25,"utc":true},
          {"year":2012,"month":7,"date":1,"utc":true},{"year":2012,"month":7,"date":7,"utc":true},{"year":2012,"month":7,"date":13,"utc":true},{"year":2012,"month":7,"date":19,"utc":true},{"year":2012,"month":7,"date":25,"utc":true},
          {"year":2012,"month":8,"date":1,"utc":true},{"year":2012,"month":8,"date":7,"utc":true},{"year":2012,"month":8,"date":13,"utc":true},{"year":2012,"month":8,"date":19,"utc":true},{"year":2012,"month":8,"date":25,"utc":true},
          {"year":2012,"month":9,"date":1,"utc":true},{"year":2012,"month":9,"date":7,"utc":true},{"year":2012,"month":9,"date":13,"utc":true},{"year":2012,"month":9,"date":19,"utc":true},{"year":2012,"month":9,"date":25,"utc":true},
          {"year":2012,"month":10,"date":1,"utc":true},{"year":2012,"month":10,"date":7,"utc":true},{"year":2012,"month":10,"date":13,"utc":true},{"year":2012,"month":10,"date":19,"utc":true},{"year":2012,"month":10,"date":25,"utc":true},
          {"year":2012,"month":11,"date":1,"utc":true}],
        "labelExpr":"utcdate(datum.value) == 1 ? utcFormat(datum.value, '%m/%d') : ''",
        "gridColor":{"condition":{"test":"utcdate(datum.value) == 1","value":"#d0d0d0"},"value":"#e8e8e8"},"gridWidth":1}},
    "x2":{"datum":{"year":2012,"month":10,"date":14,"utc":true}},
    "y":{"datum":0,"type":"quantitative",
      "scale":{"domain":[0,92],"nice":false,"zero":true},
      "axis":{"title":null,"grid":true,"ticks":false,"domain":false,"tickCount":200,"format":"d","labelPadding":6,"labelOverlap":false,"labelFont":"Liberation Sans","labelFontSize":16,"labelFontWeight":"bold","labelColor":"#262626",
        "values":[0,5,10,15,20,25,30,35,40,45,50,55,60,65,70,75,80,85,90],
        "labelExpr":"(datum.value % 20 == 0 && datum.value <= 80) ? format(datum.value, 'd') : ''",
        "gridColor":{"condition":{"test":"datum.value % 20 == 0","value":"#d0d0d0"},"value":"#e8e8e8"}}},
    "y2":{"datum":92}}},
  {"transform":[{"filter":"isValid(datum.src)"}],
   "mark":{"type":"line","strokeWidth":2.7,"strokeCap":"butt","invalid":"break-paths-show-domains"},
   "encoding":{
    "x":{"field":"date","timeUnit":"utcmonthdate","type":"temporal",
      "scale":{"domain":[{"year":2012,"month":6,"date":1,"utc":true},{"year":2012,"month":11,"date":1,"utc":true}],"nice":false},
      "axis":{"title":null,"grid":true,"ticks":false,"domain":false,"tickCount":200,"labelPadding":11,"labelOverlap":false,"labelFlush":false,"labelBound":false,
        "labelFont":"Liberation Sans","labelFontSize":16,"labelFontWeight":"bold","labelColor":"#262626",
        "values":[{"year":2012,"month":6,"date":1,"utc":true},{"year":2012,"month":6,"date":7,"utc":true},{"year":2012,"month":6,"date":13,"utc":true},{"year":2012,"month":6,"date":19,"utc":true},{"year":2012,"month":6,"date":25,"utc":true},
          {"year":2012,"month":7,"date":1,"utc":true},{"year":2012,"month":7,"date":7,"utc":true},{"year":2012,"month":7,"date":13,"utc":true},{"year":2012,"month":7,"date":19,"utc":true},{"year":2012,"month":7,"date":25,"utc":true},
          {"year":2012,"month":8,"date":1,"utc":true},{"year":2012,"month":8,"date":7,"utc":true},{"year":2012,"month":8,"date":13,"utc":true},{"year":2012,"month":8,"date":19,"utc":true},{"year":2012,"month":8,"date":25,"utc":true},
          {"year":2012,"month":9,"date":1,"utc":true},{"year":2012,"month":9,"date":7,"utc":true},{"year":2012,"month":9,"date":13,"utc":true},{"year":2012,"month":9,"date":19,"utc":true},{"year":2012,"month":9,"date":25,"utc":true},
          {"year":2012,"month":10,"date":1,"utc":true},{"year":2012,"month":10,"date":7,"utc":true},{"year":2012,"month":10,"date":13,"utc":true},{"year":2012,"month":10,"date":19,"utc":true},{"year":2012,"month":10,"date":25,"utc":true},
          {"year":2012,"month":11,"date":1,"utc":true}],
        "labelExpr":"utcdate(datum.value) == 1 ? utcFormat(datum.value, '%m/%d') : ''",
        "gridColor":{"condition":{"test":"utcdate(datum.value) == 1","value":"#d0d0d0"},"value":"#e8e8e8"},"gridWidth":1}},
    "y":{"field":"mm","type":"quantitative","scale":{"domain":[0,92],"nice":false,"zero":true},
      "axis":{"title":null,"grid":true,"ticks":false,"domain":false,"tickCount":200,"format":"d","labelPadding":6,"labelOverlap":false,"labelFont":"Liberation Sans","labelFontSize":16,"labelFontWeight":"bold","labelColor":"#262626",
        "values":[0,5,10,15,20,25,30,35,40,45,50,55,60,65,70,75,80,85,90],
        "labelExpr":"(datum.value % 20 == 0 && datum.value <= 80) ? format(datum.value, 'd') : ''",
        "gridColor":{"condition":{"test":"datum.value % 20 == 0","value":"#d0d0d0"},"value":"#e8e8e8"}}},
    "color":{"field":"src","type":"nominal",
      "scale":{"domain":["GEMB (ERA5)","EBM (AWS)","SMAP"],"range":["#000000","#1010d8","#e01818"]},
      "legend":{"orient":"none","legendX":995,"legendY":12,"title":null,"symbolType":"stroke","symbolSize":729,"symbolStrokeWidth":3,"labelFont":"Liberation Sans","labelFontSize":15,"labelFontWeight":"bold","labelColor":"#222","rowPadding":4,"labelOffset":4,"padding":0}},
    "strokeDash":{"field":"src","type":"nominal",
      "scale":{"domain":["GEMB (ERA5)","EBM (AWS)","SMAP"],"range":[[2.5,3.5],[1,0],[9,5]]},
      "legend":{"orient":"none","legendX":995,"legendY":12,"title":null,"symbolType":"stroke","symbolSize":729,"symbolStrokeWidth":3,"labelFont":"Liberation Sans","labelFontSize":15,"labelFontWeight":"bold","labelColor":"#222","rowPadding":4,"labelOffset":4,"padding":0}}}},
  {"transform":[{"filter":"isValid(datum.lab)"}],
   "mark":{"type":"text","align":"left","baseline":"middle","font":"Liberation Sans","fontSize":16,"fontWeight":"bold","color":"#222"},
   "encoding":{
    "x":{"datum":{"year":2012,"month":6,"date":5,"utc":true},"type":"temporal"},
    "y":{"datum":80,"type":"quantitative"},
    "text":{"field":"lab"}}},
  {"transform":[{"filter":"datum.lab == '(b)'"}],
   "mark":{"type":"text","align":"center","baseline":"middle","font":"Liberation Serif","fontSize":22,"color":"#000"},
   "encoding":{
    "x":{"datum":{"year":2012,"month":9,"date":10,"utc":true},"type":"temporal"},
    "y":{"datum":62,"type":"quantitative"},
    "text":{"value":"SMAP Outage"}}},
  {"transform":[{"filter":"datum.lab == '(b)'"}],
   "mark":{"type":"rule","color":"#000","strokeWidth":2},
   "encoding":{
    "x":{"datum":{"year":2012,"month":8,"date":7,"utc":true},"type":"temporal"},
    "x2":{"datum":{"year":2012,"month":10,"date":15,"utc":true}},
    "y":{"datum":52,"type":"quantitative"}}},
  {"transform":[{"filter":"datum.lab == '(b)'"}],
   "mark":{"type":"point","shape":"triangle-left","filled":true,"color":"#000","opacity":1,"size":120},
   "encoding":{
    "x":{"datum":{"year":2012,"month":8,"date":8,"utc":true},"type":"temporal"},
    "y":{"datum":52,"type":"quantitative"}}},
  {"transform":[{"filter":"datum.lab == '(b)'"}],
   "mark":{"type":"point","shape":"triangle-right","filled":true,"color":"#000","opacity":1,"size":120},
   "encoding":{
    "x":{"datum":{"year":2012,"month":10,"date":14,"utc":true},"type":"temporal"},
    "y":{"datum":52,"type":"quantitative"}}}
 ]
},
"config":{"font":"Liberation Sans","view":{"stroke":"#a0a0a0","strokeWidth":1}}
}
